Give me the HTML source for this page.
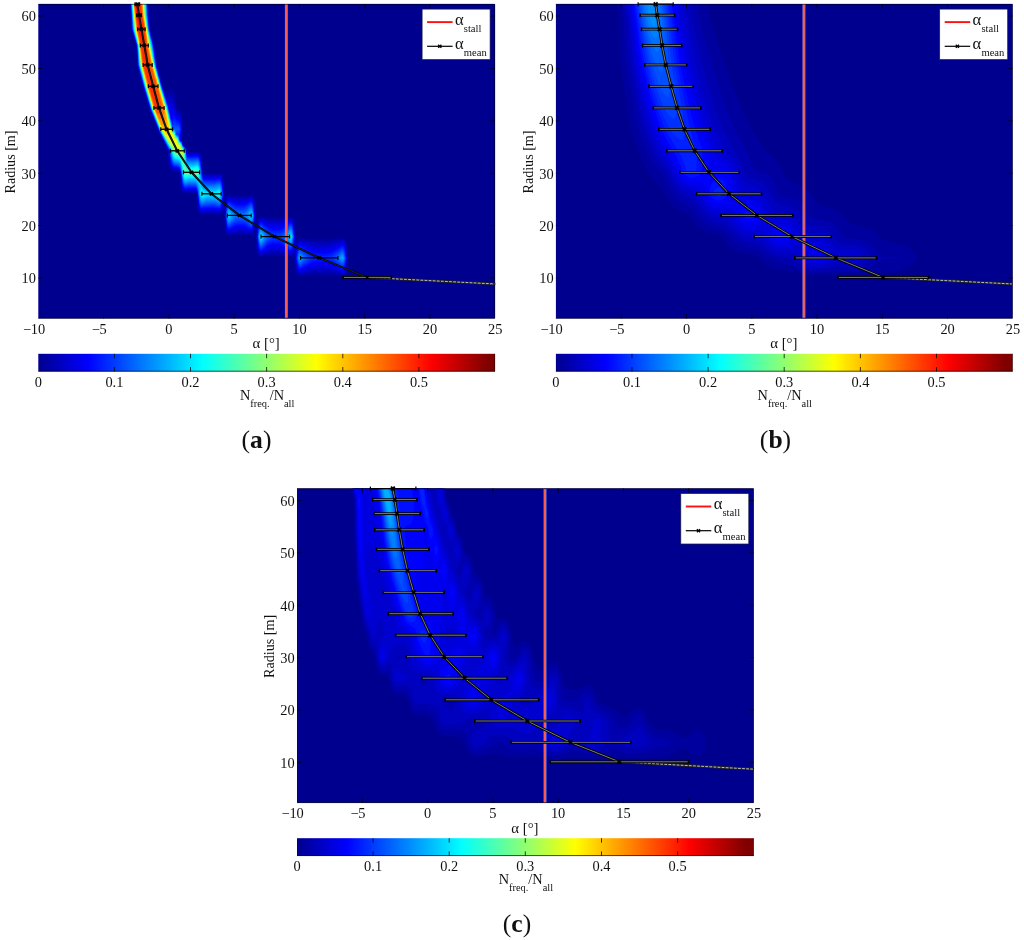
<!DOCTYPE html>
<html lang="en"><head><meta charset="utf-8"><title>Angle of attack distributions</title>
<style>html,body{margin:0;padding:0;background:#fff}svg{display:block}text{font-family:"Liberation Serif",serif;fill:#111}</style></head><body>
<svg width="1024" height="940" viewBox="0 0 1024 940" font-size="14.4">
<defs><linearGradient id="jet" x1="0" x2="1" y1="0" y2="0"><stop offset="0.0000" stop-color="#00008f"/><stop offset="0.0156" stop-color="#00009f"/><stop offset="0.0312" stop-color="#0000af"/><stop offset="0.0469" stop-color="#0000bf"/><stop offset="0.0625" stop-color="#0000cf"/><stop offset="0.0781" stop-color="#0000df"/><stop offset="0.0938" stop-color="#0000ef"/><stop offset="0.1094" stop-color="#0000ff"/><stop offset="0.1250" stop-color="#0010ff"/><stop offset="0.1406" stop-color="#0020ff"/><stop offset="0.1562" stop-color="#0030ff"/><stop offset="0.1719" stop-color="#0040ff"/><stop offset="0.1875" stop-color="#0050ff"/><stop offset="0.2031" stop-color="#0060ff"/><stop offset="0.2188" stop-color="#0070ff"/><stop offset="0.2344" stop-color="#0080ff"/><stop offset="0.2500" stop-color="#008fff"/><stop offset="0.2656" stop-color="#009fff"/><stop offset="0.2812" stop-color="#00afff"/><stop offset="0.2969" stop-color="#00bfff"/><stop offset="0.3125" stop-color="#00cfff"/><stop offset="0.3281" stop-color="#00dfff"/><stop offset="0.3438" stop-color="#00efff"/><stop offset="0.3594" stop-color="#00ffff"/><stop offset="0.3750" stop-color="#10ffef"/><stop offset="0.3906" stop-color="#20ffdf"/><stop offset="0.4062" stop-color="#30ffcf"/><stop offset="0.4219" stop-color="#40ffbf"/><stop offset="0.4375" stop-color="#50ffaf"/><stop offset="0.4531" stop-color="#60ff9f"/><stop offset="0.4688" stop-color="#70ff8f"/><stop offset="0.4844" stop-color="#80ff80"/><stop offset="0.5000" stop-color="#8fff70"/><stop offset="0.5156" stop-color="#9fff60"/><stop offset="0.5312" stop-color="#afff50"/><stop offset="0.5469" stop-color="#bfff40"/><stop offset="0.5625" stop-color="#cfff30"/><stop offset="0.5781" stop-color="#dfff20"/><stop offset="0.5938" stop-color="#efff10"/><stop offset="0.6094" stop-color="#ffff00"/><stop offset="0.6250" stop-color="#ffef00"/><stop offset="0.6406" stop-color="#ffdf00"/><stop offset="0.6562" stop-color="#ffcf00"/><stop offset="0.6719" stop-color="#ffbf00"/><stop offset="0.6875" stop-color="#ffaf00"/><stop offset="0.7031" stop-color="#ff9f00"/><stop offset="0.7188" stop-color="#ff8f00"/><stop offset="0.7344" stop-color="#ff8000"/><stop offset="0.7500" stop-color="#ff7000"/><stop offset="0.7656" stop-color="#ff6000"/><stop offset="0.7812" stop-color="#ff5000"/><stop offset="0.7969" stop-color="#ff4000"/><stop offset="0.8125" stop-color="#ff3000"/><stop offset="0.8281" stop-color="#ff2000"/><stop offset="0.8438" stop-color="#ff1000"/><stop offset="0.8594" stop-color="#ff0000"/><stop offset="0.8750" stop-color="#ef0000"/><stop offset="0.8906" stop-color="#df0000"/><stop offset="0.9062" stop-color="#cf0000"/><stop offset="0.9219" stop-color="#bf0000"/><stop offset="0.9375" stop-color="#af0000"/><stop offset="0.9531" stop-color="#9f0000"/><stop offset="0.9688" stop-color="#8f0000"/><stop offset="0.9844" stop-color="#800000"/><stop offset="1.0000" stop-color="#800000"/></linearGradient>
<clipPath id="pc"><rect x="38.3" y="4.0" width="456.7" height="314.5"/></clipPath></defs>
<rect width="1024" height="940" fill="#fff"/>
<g transform="translate(0,0)">
<rect x="38.3" y="4.0" width="456.7" height="314.5" fill="#00008f"/>
<g clip-path="url(#pc)">
<path fill="#00009f" d="M129.6,4 148.9,4 149.2,15.2 150.3,29.2 154.8,45.4 157.2,64.9 158.3,67.7 160,75.6 162.3,82.8 162.9,86.3 165.3,91.8 166.3,90.5 168.3,89.7 172.3,89.8 173.3,90.2 174.5,91.7 175.8,97.1 176.6,107.9 177.3,108.9 178.3,109.5 180.3,109.9 181.3,111.2 181.9,113.2 182.5,118.6 183,129.3 182.5,140.1 183.3,141.6 184,145.4 185.3,145.8 186.3,146.7 187.3,151.5 198.3,151.5 200.3,152 201.3,153 202.3,156.2 202.9,161.6 203.3,172.5 204.3,173.2 220.3,173.2 222.3,174 223.8,177.7 225.3,197.6 226.3,195.6 228.3,194.8 240.3,195.2 251.3,194.8 253.3,195.3 254.3,196.6 255.1,199.2 255.6,204.6 256.3,222.7 257.3,218.5 258.3,217 260.3,216.3 275.3,217.2 291.3,216.3 293.3,217 294.3,218.5 294.9,220.7 296.3,238.9 298.3,238 300.3,237.7 312.3,238.6 321.3,238.8 330.3,238.6 342.3,237.7 345.3,238.6 346.3,239.7 347.1,241.9 347.8,247.2 348.5,267.6 349.1,272.5 346.3,275.6 344.3,276.4 342.3,276.5 324.3,275.4 312.3,275.5 300.3,276.4 298.3,276.2 296.3,274.8 295.4,272.5 294.6,267.6 294.1,257.9 293.3,256.2 292.3,256.8 290.3,257 276.3,256.1 269.3,256.3 261.3,257 259.3,256.8 258.3,256.2 257.3,254.7 256.7,252.6 255.3,230.2 254.3,233.9 253.3,235.2 252.3,235.6 241.3,235.2 227.3,235.5 226.3,234.8 224.9,231.3 223.9,215.4 223.3,211.8 222.3,213.7 221.3,214.3 219.3,214.6 201.3,214.6 199.3,214.1 198.3,213.2 197.2,210 196.6,204.6 196.3,193.8 195.3,193.1 185.3,193.1 182.3,192.6 181.3,191.6 180.3,188.4 179.7,183.1 179.3,172.1 178.3,171.7 173.3,171.6 171.3,171.1 170.3,170.6 169.3,169 168.7,166.9 168.1,161.6 167.7,150.8 166.3,149.7 165.1,145.4 163.3,143.4 162.7,140.1 161.3,139.1 160.2,134.7 158.3,133 157.6,129.3 156.3,127.9 155.6,124 154.3,122.9 153.4,118.6 152.3,117.7 151.2,113.2 150.3,112.5 149.3,110.4 147.4,102.5 146.3,100.6 145.6,97.1 144.3,93.7 142.5,86.3 141.3,83.3 136.7,64.9 136.3,51.1 135.8,45.4 130.8,29.2 129.6,4Z"/>
<path fill="#0000af" d="M130,4 148.4,4 148.9,15.2 150.1,29.2 154.4,45.4 156.9,64.9 164.2,91.7 166.3,94.7 167.3,93.5 168.3,93 172.3,93.2 173.3,94.1 174.5,97.1 175.8,107.9 176.3,109.2 177.3,110.6 180.3,112 180.9,113.2 181.9,118.6 182.5,129.3 181.9,140.1 183.3,143.5 183.6,145.4 185.3,146.2 186.3,148 187.3,152.2 197.3,152.1 199.3,152.5 200.3,153.3 201.6,156.2 202.3,161.6 202.9,172.3 203.3,173.4 204.3,174.1 205.3,174.1 219.3,173.9 221.3,174.5 222.3,175.7 223,177.7 223.8,183.1 224.3,193.8 224.1,204.6 223,210 222.3,212 221.3,213.2 219.3,213.8 202.3,213.7 200.3,213.5 199.3,212.8 198,210 197.2,204.6 196.6,193.8 196.3,193 195.3,192.4 184.3,192.4 182.3,191.3 181,188.4 180.3,183.1 179.7,172.3 179.3,171.5 178.3,171.1 173.3,170.8 171.3,170 170.3,168.8 169.6,166.9 168.7,161.6 168.1,150.8 166.3,148.6 165.5,145.4 164.3,144.1 163.1,140.1 161.3,138.2 160.5,134.7 159.3,133.7 157.9,129.3 156.3,126.5 155.8,124 154.3,121.8 153.7,118.6 152.3,116.9 151.5,113.2 150.3,111.8 144.4,91.7 143.3,89.1 137.3,66 136.3,45.4 131.2,29.2 130,4ZM225.7,199.2 226.3,197.4 227.3,196.1 228.3,195.7 235.3,196.6 240.3,196.7 245.3,196.5 251.3,195.7 252.3,195.9 253.3,196.7 254.3,199.2 255.1,204.6 255.6,215.4 255.1,226 254.3,231.3 253.3,233.7 251.3,234.7 242.3,233.8 235.3,233.9 229.3,234.7 227.3,234.3 226.3,233.1 225.7,231.3 224.6,220.7 224.5,204.6 225.7,199.2ZM257.5,220.7 258.3,218.7 259.3,217.6 260.3,217.3 269.3,218.7 274.3,219 281.3,218.8 290.3,217.2 292.3,217.6 293.3,218.7 294.3,221.7 294.9,226 295.5,236.6 296.3,241.7 298.3,239.3 300.3,238.9 311.3,240.5 318.3,240.9 329.3,240.7 342.3,238.9 344.3,239.5 345.3,240.5 346.3,242.8 347.5,252.6 347.7,262.8 347,272.5 345.3,274.7 343.3,275.6 331.3,273.8 323.3,273.4 313.3,273.6 299.3,275.2 297.3,274.1 296.3,272.3 295.4,267.6 294.3,254.9 293.3,254.6 292.3,255.7 290.3,256.1 282.3,254.6 277.3,254.3 270.3,254.5 261.3,256.1 259.3,255.7 258.3,254.6 257.5,252.6 256.7,247.2 256.3,241.9 256.3,231.3 256.6,226 257.5,220.7Z"/>
<path fill="#0000bf" d="M130.3,4 148.2,4 148.6,15.2 149.8,29.2 154.1,45.4 156.7,64.9 162.3,86.3 163.3,88.5 164.1,91.7 166.3,97.4 168.3,96.4 171.3,96.4 172.3,96.7 173.3,98 174.3,101.3 175.1,107.9 176.3,111 177.3,112.2 179.3,112.9 180.3,114 181.4,118.6 182.2,129.3 181.4,140.1 182.3,141 183.3,145.4 185.3,146.5 187.3,152.9 197.3,152.8 199.3,153.4 200.3,154.5 201.3,157.4 202,161.6 202.6,172.3 203.3,174.3 204.3,174.9 207.3,175.1 219.3,174.7 221.3,175.6 222.3,177.4 223.8,188.4 223.9,199.2 222.4,210 221.3,212.1 220.3,212.7 208.3,212.6 202.3,212.9 200.3,212.5 199.3,211.5 198.3,208.8 197.6,204.6 196.9,193.8 196.3,192.3 195.3,191.7 185.3,191.8 183.3,191.2 182.3,190.1 181.3,187.2 180.6,183.1 180,172.3 179.3,170.9 178.3,170.5 173.3,170.1 171.3,168.8 170.3,167.1 169.2,161.6 168.5,150.8 166.3,147.4 165.8,145.4 164.3,143.5 163.4,140.1 161.3,137.3 160.7,134.7 159.3,133.2 158.3,129.3 157.3,128 156.1,124 154.3,120.7 153.9,118.6 152.3,116 151.7,113.2 150.3,111.1 143.3,87.8 138.3,68.9 137.4,64.9 136.4,45.4 131.5,29.2 130.3,4ZM226.3,199.2 227.3,197.3 229.3,196.6 234.3,197.8 240.3,198.1 245.3,197.9 251.3,196.7 252.3,197 253.3,198.2 254.7,204.6 255.3,215.4 254.3,228.4 253.7,231.3 252.3,233.5 250.3,233.7 245.3,232.6 241.3,232.3 235.3,232.5 229.3,233.8 227.3,233.2 226.3,231.3 225.4,226 224.6,215.4 225.4,204.6 226.3,199.2ZM258.2,220.7 259.3,218.7 261.3,218.1 269.3,220.3 274.3,220.8 281.3,220.5 290.3,218.1 292.3,218.7 293.4,220.7 294.5,226 295.2,236.6 295.3,245.5 296.3,244.6 297.3,242.1 298.3,240.7 300.3,240 311.3,242.5 320.3,243.1 329.3,242.8 341.3,240.2 343.3,240.2 344.3,240.9 345.3,242.5 346.5,247.2 347.1,252.6 347.4,257.9 347.2,262.8 346.9,267.6 346,272.5 344.3,274.3 342.3,274.7 332.3,272.2 323.3,271.4 313.3,271.7 300.3,274.3 299.3,274.2 298.3,273.7 297.4,272.5 296.3,269.7 295.4,262.8 294.8,252.6 294.3,251 292.3,254.5 290.3,255.2 282.3,253 277.3,252.5 270.3,252.8 261.3,255.2 259.3,254.5 258.2,252.6 257.3,248.4 256.4,236.6 257.1,226 258.2,220.7Z"/>
<path fill="#0000cf" d="M130.4,4 148,4 148.3,15.2 149.6,29.2 153.9,45.4 156.4,64.9 162.1,86.3 165.7,97.1 167.3,100.6 168.3,99.8 171.3,99.8 172.3,100.1 173.3,101.9 174.5,107.9 176.3,112.7 177.3,113.9 179.3,114.6 180.3,116.1 181.3,121.3 181.9,129.3 180.9,140.1 182.3,141.5 183.2,145.4 185.3,146.9 187.3,153.6 197.3,153.5 199.3,154.3 200.5,156.2 201.3,159.6 202.3,172.3 203.3,175.2 204.3,175.8 207.3,176 219.3,175.6 220.3,175.8 221.8,177.7 223,183.1 223.8,193.8 223,204.6 222.3,208.5 221.3,211 220.3,211.8 219.3,212.1 208.3,211.6 202.3,212.1 200.3,211.6 199.2,210 198.3,206.6 197.2,193.8 196.3,191.6 195.3,191 194.3,190.9 185.3,191.1 183.3,190.3 182.1,188.4 181.3,185 180.3,172.3 179.3,170.3 178.3,169.9 173.3,169.4 172.3,168.7 170.9,166.9 169.6,161.6 168.7,150.8 167.3,148.9 166.1,145.4 164.3,142.8 163.5,140.1 162.3,138.5 160.9,134.7 159.3,132.7 158.4,129.3 157.3,127.5 156.3,124 155.3,122.4 154.1,118.6 150.3,110.4 142.3,83.3 138.3,68.1 137.6,64.9 136.6,45.4 131.7,29.2 130.4,4ZM226.9,199.2 228.3,197.7 229.3,197.6 234.3,199.1 238.3,199.6 244.3,199.4 250.3,197.7 251.3,197.6 252.3,198.1 253.3,199.6 254.3,204.6 255.1,215.4 254.3,226 253.3,230.9 252.3,232.4 251.3,232.9 250.3,232.7 245.3,231.3 241.3,230.9 235.3,231.2 229.3,232.9 228.3,232.8 227.3,232.1 226.3,229.5 225.7,226 224.9,215.4 225.7,204.6 226.9,199.2ZM258.8,220.7 260.3,219.1 261.3,219 270.3,222.2 277.3,222.6 282.3,222 290.3,219 291.3,219.1 292.3,219.9 293.3,222 294.1,226 294.9,236.6 294.3,247.2 293.3,251.3 292.3,253.4 291.3,254.2 290.3,254.3 282.3,251.3 276.3,250.6 272.3,250.8 269.3,251.3 261.3,254.3 260.3,254.2 259.3,253.4 258.3,251.3 257.5,247.2 256.7,236.6 257.5,226 258.8,220.7ZM298.4,241.9 300.3,241.1 312.3,244.7 316.3,245.2 323.3,245.3 330.3,244.7 341.3,241.4 343.3,241.4 344.3,242.3 345.3,244.4 346,247.2 347.1,257.9 346.3,267.6 345,272.5 343.3,273.7 342.3,273.9 336.3,271.5 331.3,270.2 327.3,269.6 321.3,269.5 312.3,270 300.3,273.2 298.4,272.5 297.3,270.7 296.4,267.6 295.4,257.9 295.5,252.6 296.3,247.2 297.3,243.9 298.4,241.9Z"/>
<path fill="#0000df" d="M130.5,4 147.8,4 148.1,15.2 149.4,29.2 153.7,45.4 156.2,64.9 162,86.3 165.3,97.1 166.3,98.9 167.3,102.7 172.3,103.6 176.3,114.5 177.3,115.5 179.3,116.3 180.3,118.1 181.7,129.3 180.4,140.1 181.3,140.5 182.3,142 183.1,145.4 185.3,147.3 187.3,154.3 197.3,154.2 199.3,155.1 200.3,157 201.3,161.6 202.1,172.3 203.3,176 204.3,176.7 208.3,177 214.3,176.9 219.3,176.4 220.3,176.7 221.3,177.8 222.7,183.1 223.6,193.8 222.3,206.8 221.3,209.9 220.3,211 219.3,211.3 214.3,210.8 208.3,210.7 202.3,211.3 200.3,210.6 199.3,209 198.3,204.6 197.4,193.8 196.3,190.9 195.3,190.3 194.3,190.2 185.3,190.4 183.3,189.5 182.3,187.6 181.3,183 180.3,171.7 179.3,169.8 173.3,168.6 171.3,166.4 169.9,161.6 168.9,150.8 167.3,148.4 166.3,145.4 164.3,142.1 163.7,140.1 162.3,138.1 161.1,134.7 159.3,132.2 158.5,129.3 157.3,127.1 154.3,118.6 150.3,109.7 144.3,89.8 138.3,67.4 137.7,64.9 136.7,45.4 131.9,29.2 130.5,4ZM227.7,199.2 228.3,198.6 229.3,198.5 234.3,200.5 240.3,201 245.3,200.6 250.3,198.7 251.3,198.6 252.3,199.1 253.3,201.1 254,204.6 254.9,215.4 254,226 253.3,229.4 252.3,231.4 251.3,231.9 250.3,231.8 245.3,230 241.3,229.5 235.3,229.8 229.3,232 228.3,231.8 227.3,230.9 226,226 225.1,215.4 226,204.6 227.7,199.2ZM259.6,220.7 260.3,220 261.3,219.9 269.3,223.6 272.3,224.3 275.3,224.4 279.3,224.3 282.3,223.6 290.3,219.9 291.3,220 292,220.7 293.3,223.6 293.8,226 294.7,236.6 293.9,247.2 292,252.6 291.3,253.2 290.3,253.4 282.3,249.7 279.3,249 276.3,248.8 272.3,249 269.3,249.7 261.3,253.4 260.3,253.2 259.6,252.6 258.3,249.6 257.8,247.2 256.9,236.6 257.8,226 258.3,223.6 259.6,220.7ZM296.9,247.2 298.3,243.4 299.3,242.5 300.3,242.3 311.3,246.5 315.3,247.2 320.3,247.4 329.3,246.9 333.3,245.8 341.3,242.5 342.3,242.3 343.3,242.6 344.3,243.8 345.5,247.2 346.8,257.9 345.8,267.6 344.3,272.1 343.3,272.8 342.3,273 336.3,270.1 331.3,268.4 327.3,267.7 321.3,267.5 312.3,268.1 300.3,272.2 299.3,272 298.3,271.2 297.3,269 296,262.8 295.6,257.9 296,252.6 296.9,247.2Z"/>
<path fill="#0000ef" d="M130.7,4 147.6,4 148,15.2 149.3,29.2 153.5,45.4 156.1,64.9 161.8,86.3 167.3,103.2 169.3,106.6 171.3,106.6 172.3,107.1 176.3,116.3 177.3,117.2 179.3,117.9 180.3,120.1 181.4,129.3 180.1,140.1 181.3,140.7 182.3,142.5 183,145.4 185.3,147.7 187.3,155.1 197.3,154.8 198.3,155.1 199.3,156 200.3,158.3 201,161.6 202,172.3 203.3,176.9 204.3,177.6 208.3,177.9 214.3,177.8 219.3,177.2 220.3,177.6 221.3,178.9 222.4,183.1 223.3,193.8 222.3,205.1 221.3,208.8 220.3,210.1 219.3,210.5 214.3,209.8 208.3,209.8 202.3,210.4 201.3,210.4 200.3,209.7 199.3,207.7 198.6,204.6 197.6,193.8 196.3,190.2 195.3,189.5 193.3,189.4 185.3,189.8 184.3,189.5 183.3,188.6 182.3,186.3 181.6,183.1 180.3,171 179.3,169.2 173.3,167.9 171.3,165.3 170.2,161.6 169.2,150.8 167.3,147.9 163.9,140.1 162.3,137.8 161.3,134.7 159.3,131.7 156.6,123.9 150.3,109 144.3,89.2 138.3,66.6 137.9,64.9 136.8,45.4 132.1,29.2 130.7,4ZM170.3,109.6 170.1,113.2 171.3,119 171.3,112.7 170.3,109.6ZM226.3,204.6 227.3,200.7 228.3,199.6 229.3,199.5 234.3,201.8 238.3,202.4 244.3,202.2 247.3,201.2 250.3,199.7 251.3,199.5 252.3,200.2 253.7,204.6 254.7,215.4 253.7,226 252.3,230.3 251.3,231 250.3,230.8 247.3,229.3 244.3,228.4 238.3,228.1 234.3,228.7 229.3,231 228.3,230.9 227.3,229.8 226.3,226 225.7,220.7 225.4,215.4 226.3,204.6ZM258.2,226 259.3,222.1 260.3,221 261.3,220.8 269.3,225.3 272.3,226.1 275.3,226.2 281.3,225.6 284.3,224.3 289.3,221.2 290.3,220.8 291.3,221 292.3,222.1 293.3,225.3 294.5,236.6 293.5,247.2 292.3,251.2 291.3,252.3 290.3,252.5 284.3,249 281.3,247.6 278.3,247.1 274.3,247 269.3,248 262.3,252.1 261.3,252.5 260.3,252.3 259.3,251.2 258.3,248 257.5,241.9 257.1,236.6 258.2,226ZM297.4,247.2 298.3,244.7 299.3,243.7 300.3,243.4 308.3,247.3 313.3,249 318.3,249.6 325.3,249.5 329.3,248.9 332.3,248 341.3,243.7 342.3,243.5 343.3,243.8 344.3,245.2 345.3,248.4 346.5,257.9 345.3,267.6 344.3,270.6 343.3,271.7 342.3,272 336.3,268.6 331.3,266.6 326.3,265.6 320.3,265.5 316.3,265.6 312.3,266.3 308.3,267.6 300.3,271.2 299.3,270.9 298.3,269.9 297.3,267.4 295.9,257.9 296.4,252.6 297.4,247.2Z"/>
<path fill="#0000ff" d="M130.8,4 147.4,4 147.8,15.2 149.1,29.2 153.3,45.4 156,64.9 161.7,86.3 169.3,109.1 169.8,113.2 171.3,119.7 172,118.6 172.3,113.7 173.3,112.7 176.3,118.1 179.3,119.6 180.3,122.2 181.2,129.3 179.9,140.1 181.3,141 182.3,143 182.8,145.4 185.3,148 186.3,153 187.3,155.8 193.3,155.9 197.3,155.5 198.3,155.9 199.3,156.9 200.7,161.6 201.8,172.3 202.3,175.2 203.3,177.8 204.3,178.5 209.3,178.9 214.3,178.8 219.3,178 220.3,178.5 221.3,180 222.1,183.1 222.8,188.4 223.2,193.8 222.8,199.2 222.1,204.6 221.3,207.7 220.3,209.2 219.3,209.7 211.3,208.8 206.3,208.9 202.3,209.6 201.3,209.5 200.3,208.7 198.9,204.6 197.8,193.8 196.3,189.5 195.3,188.8 194.3,188.7 185.3,189.1 183.9,188.4 183.3,187.7 181.9,183.1 180.8,172.3 180.3,170.4 179.3,168.6 178.3,168.1 174.3,167.7 173.3,167.2 172.3,166.1 171.3,164.1 170.3,160.2 169.4,150.8 165.3,143.4 164.1,140.1 162.3,137.4 161.4,134.7 159.3,131.2 154.5,118.6 151.3,111.3 144.3,88.7 138.3,65.9 137,45.4 132.3,29.2 130.8,4ZM226.6,204.6 227.3,201.9 228.3,200.6 229.3,200.4 234.3,203.1 238.3,203.9 244.3,203.6 247.3,202.4 250.3,200.7 251.3,200.5 252.3,201.3 253.4,204.6 254.5,215.4 253.4,226 252.3,229.3 251.3,230 250.3,229.9 247.3,228.1 244.3,227 238.3,226.7 234.3,227.4 229.3,230.1 228.3,229.9 227.3,228.7 226.6,226 225.5,215.4 226.6,204.6ZM258.5,226 259.3,223.2 260.3,221.9 261.3,221.7 267.3,225.8 270.3,227.3 273.3,228 278.3,228 282.3,226.9 289.3,222.2 290.3,221.7 291.3,221.9 292.3,223.2 293.1,226 294.3,236.6 293.3,246.3 292.3,250.1 291.3,251.4 290.3,251.6 284.3,247.5 281.3,245.9 278.3,245.3 274.3,245.2 271.3,245.6 269.3,246.4 262.3,251.1 261.3,251.6 260.3,251.4 259.3,250.1 258.5,247.2 257.7,241.9 257.3,236.6 258.5,226ZM297.9,247.2 299.3,244.8 300.3,244.6 308.3,249.1 312.3,250.8 317.3,251.7 324.3,251.7 330.3,250.7 334.3,248.9 341.3,244.9 342.3,244.6 343.3,245 344.3,246.6 345.3,250.3 346.3,257.9 345.3,265.8 344.3,269.2 343.3,270.5 342.3,270.9 335.3,266.6 330.3,264.5 325.3,263.6 319.3,263.5 312.3,264.4 308.3,266 300.3,270.1 299.3,269.9 298.3,268.7 297.3,265.7 296.1,257.9 296.7,252.6 297.9,247.2Z"/>
<path fill="#0010ff" d="M130.9,4 147.2,4 147.7,15.2 149,29.2 153.1,45.4 155.9,64.9 161.6,86.3 169.3,111.2 171.3,120.5 172.3,121.2 173.3,115.9 174.3,116.6 176.3,119.8 179.3,121.3 180.3,124.2 180.9,129.3 179.6,140.1 181.3,141.2 182.7,145.4 185.3,148.4 186.3,153.8 187.3,156.5 193.3,156.6 197.3,156.2 198.3,156.6 199.3,157.8 200.5,161.6 202.3,176.2 203.3,178.7 204.3,179.4 209.3,179.8 214.3,179.7 219.3,178.8 220.3,179.4 221.3,181.1 222.3,186 223,193.8 221.8,204.6 221.3,206.6 220.3,208.3 219.3,208.8 215.3,208.1 211.3,207.9 206.3,208 202.3,208.8 201.3,208.7 200.3,207.8 199.2,204.6 198,193.8 197.3,190.8 196.3,188.8 195.3,188.1 194.3,188 189.3,188 185.3,188.4 184.3,188 183.3,186.8 182.3,183.8 181,172.3 180.3,169.7 179.3,168 174.3,167 173.3,166.4 172.3,165.2 171.3,162.9 170.3,158.4 169.6,150.8 165.3,143.1 164.3,140.1 162.3,137 161.6,134.7 160.3,133 151.3,110.9 144.3,88.1 139.3,69.2 138.3,64.9 137.1,45.4 132.4,29.2 130.9,4ZM226.9,204.6 227.3,203 228.3,201.5 229.3,201.4 234.3,204.5 238.3,205.3 244.3,205 247.3,203.7 250.3,201.6 251.3,201.4 252.3,202.3 253.3,205.5 254.3,215.4 253.3,225.1 252.3,228.2 251.3,229.1 250.3,228.9 247.3,226.9 244.3,225.7 238.3,225.3 234.3,226.1 229.3,229.2 228.3,229 227.3,227.5 226.9,226 225.7,215.4 226.9,204.6ZM258.8,226 259.3,224.3 260.3,222.8 261.3,222.5 267.3,227.2 270.3,229 273.3,229.8 278.3,229.8 282.3,228.5 289.3,223.1 290.3,222.5 291.3,222.8 292.3,224.3 292.8,226 294.1,236.6 292.8,247.2 292.3,248.9 291.3,250.4 290.3,250.7 289.3,250.1 284.3,246 281.3,244.2 279.3,243.6 276.3,243.4 273.3,243.5 270.3,244.2 267.3,246 262.3,250.1 261.3,250.7 260.3,250.4 259.3,248.9 258.8,247.2 257.5,236.6 258.8,226ZM298.4,247.2 299.3,246 300.3,245.7 308.3,250.8 312.3,252.8 316.3,253.7 323.3,253.9 327.3,253.6 331.3,252.3 342.3,245.7 343.3,246.3 344.3,248 345.3,252.3 346,257.9 345.3,263.7 344.3,267.8 343.3,269.4 342.3,269.7 335.3,265 330.3,262.7 325.3,261.6 319.3,261.5 315.3,261.8 312.3,262.6 308.3,264.4 300.3,269.1 299.3,268.8 298.3,267.5 297.3,264 296.4,257.9 297.3,251.2 298.4,247.2Z"/>
<path fill="#0020ff" d="M131,4 147.1,4 147.5,15.2 148.9,29.2 153,45.4 155.7,64.9 161.4,86.3 167.3,104.5 172.3,124.4 173.3,119.2 174.3,119 176.3,121.6 179.3,122.9 180.3,126.3 180.7,129.3 179.6,134.7 179.4,140.1 181.3,141.5 182.6,145.4 185.3,148.8 186.3,154.6 187.3,157.2 193.3,157.4 197.3,156.9 198.3,157.3 199.3,158.6 200.3,162 202.3,177.2 203.3,179.6 204.3,180.2 208.3,180.7 214.3,180.6 219.3,179.6 220.3,180.3 221.5,183.1 222.8,193.8 221.5,204.6 220.3,207.4 219.3,208 215.3,207.2 211.3,206.9 206.3,207.1 202.3,208 201.3,207.8 200.3,206.8 199.3,203.8 198.2,193.8 197.3,190.1 196.3,188.1 195.3,187.4 193.3,187.2 185.3,187.7 184.3,187.3 183.3,186 182.4,183.1 181.2,172.3 180.3,169.1 179.3,167.4 174.3,166.3 172.3,164.3 171.2,161.6 170.3,156.7 169.7,150.8 165.3,142.7 164.4,140.1 162.3,136.6 161.7,134.7 160.3,132.7 151.3,110.6 144.3,87.6 139.3,68.7 138.4,64.9 137.3,45.4 132.5,29.2 131,4ZM227.2,204.6 228.3,202.5 229.3,202.3 232.3,204.6 235.3,206.2 238.3,206.8 242.3,206.7 245.3,206 250.3,202.6 251.3,202.4 252.3,203.4 253.3,206.9 254.1,215.4 253.3,223.7 252.3,227.2 251.3,228.2 250.3,227.9 247.3,225.7 244.3,224.3 238.3,223.9 234.3,224.8 229.3,228.3 228.3,228 227.2,226 225.8,215.4 227.2,204.6ZM259.1,226 260.3,223.8 261.3,223.4 267.3,228.7 270.3,230.7 273.3,231.5 277.3,231.6 280.3,231.1 282.3,230.2 289.3,224.1 290.3,223.4 291.3,223.8 292.5,226 293.9,236.6 293.5,241.9 292.5,247.2 291.3,249.5 290.3,249.8 289.3,249.2 284.3,244.5 281.3,242.5 279.3,241.8 276.3,241.6 273.3,241.7 270.3,242.5 267.3,244.5 262.3,249.2 261.3,249.8 260.3,249.5 259.1,247.2 257.7,236.6 259.1,226ZM299.3,247.2 300.3,246.8 308.3,252.6 312.3,254.8 316.3,255.9 322.3,256.1 326.3,255.9 330.3,254.7 334.3,252.5 342.3,246.9 343.3,247.5 344.3,249.5 345.8,257.9 344.3,266.3 343.3,268.2 342.3,268.6 335.3,263.5 330.3,260.8 325.3,259.7 319.3,259.5 315.3,259.9 312.3,260.7 308.3,262.7 300.3,268 299.3,267.7 298.3,266.2 296.6,257.9 298.3,248.8 299.3,247.2Z"/>
<path fill="#0030ff" d="M131.2,4 146.9,4 147.4,15.2 148.8,29.2 152.8,45.4 155.6,64.9 161.3,86.3 167.3,104.9 172.3,125.2 173.1,124 173.3,122.5 174.3,121.4 176.3,123.4 179.3,124.6 180.4,129.3 179.3,134 178.3,134.7 176.3,134.7 178.3,134.7 179.3,140.2 181.3,141.7 182.5,145.4 184.3,147.4 185.3,149.2 186.3,155.4 187.3,157.9 193.3,158.1 197.3,157.5 198.3,158 199.3,159.5 200.3,163.3 202.2,177.7 203.3,180.5 204.3,181.1 208.3,181.6 214.3,181.5 219.3,180.5 220.3,181.1 221.3,183.3 222.7,193.8 221.3,204.4 220.3,206.5 219.3,207.2 215.3,206.3 211.3,206 206.3,206.2 202.3,207.1 201.3,207 200.3,205.9 199.3,202.5 198.3,193.6 197.3,189.3 196.3,187.4 195.3,186.7 193.3,186.5 189.3,186.5 185.3,187.1 184.3,186.6 183.3,185.1 182.7,183.1 181.3,172.3 180.3,168.4 179.3,166.8 174.3,165.7 173.3,164.9 172.3,163.4 171.3,160.6 170.5,156.2 169.9,150.8 165.3,142.4 161.8,134.7 160.3,132.5 151.3,110.3 144.3,87 139.3,68.2 138.5,64.9 137.4,45.4 132.6,29.2 131.2,4ZM227.7,204.6 228.3,203.5 229.3,203.2 232.3,205.8 235.3,207.6 237.3,208.1 241.3,208.2 245.3,207.3 250.3,203.6 251.3,203.3 252.3,204.5 253.3,208.4 254,215.4 253.3,222.3 252.3,226.1 251.3,227.2 250.3,227 247.3,224.5 244.3,222.9 242.3,222.5 238.3,222.5 234.3,223.5 229.3,227.3 228.3,227.1 227.3,225.3 226,215.4 226.5,210 227.7,204.6ZM259.6,226 260.3,224.7 261.3,224.3 267.3,230.2 270.3,232.4 273.3,233.3 277.3,233.4 280.3,232.9 282.3,231.8 289.3,225.1 290.3,224.3 291.3,224.7 292.3,226.5 293.8,236.6 292.3,246.7 291.3,248.6 290.3,248.9 289.3,248.2 284.3,243 281.3,240.8 279.3,240.1 276.3,239.8 273.3,239.9 270.3,240.8 267.3,243 262.3,248.2 261.3,248.9 260.3,248.6 259.3,246.7 257.8,236.6 258.4,231.3 259.6,226ZM297.7,252.6 298.3,250.2 299.3,248.4 300.3,248 310.3,255.7 313.3,257.2 315.6,257.9 310.3,259.9 300.3,267 299.3,266.6 298.3,265 297.3,260.7 296.9,257.9 297.7,252.6ZM336.4,252.6 342.3,248 343.3,248.7 344.3,250.9 345.5,257.9 344.3,264.9 343.3,267 342.3,267.5 333.3,260.6 330.3,259 326.8,257.9 331.3,256.2 336.4,252.6Z"/>
<path fill="#0040ff" d="M131.3,4 146.8,4 147.2,15.2 148.7,29.2 152.7,45.4 155.5,64.9 161.2,86.3 167.3,105.4 172.3,126 173.3,125.7 174.3,123.8 176.3,125.2 178.3,125.6 179.3,126.3 180.1,129.3 179.3,132.3 178.3,133.1 176.3,133.1 176.2,134.7 178.3,135.1 179.3,140.3 181.3,142 182.4,145.4 184.3,147.6 185.3,149.5 186.3,156.2 187.3,158.6 193.3,158.8 197.3,158.2 198.3,158.7 199.3,160.4 200.3,164.5 202,177.7 203.3,181.3 204.3,182 208.3,182.6 214.3,182.5 219.3,181.3 220.3,182 221.3,184.4 222.5,193.8 221.3,203.3 220.3,205.6 219.3,206.4 215.3,205.3 211.3,205 206.3,205.2 202.3,206.3 201.3,206.2 200.3,204.9 199.3,201.2 198.3,192.5 197.3,188.5 196.3,186.7 195.3,186 193.3,185.8 189.3,185.8 185.3,186.4 184.3,185.9 182.9,183.1 181.5,172.3 180.3,167.8 179.3,166.2 174.3,165 173.3,164.2 172.3,162.5 170.7,156.2 170.1,150.8 165.3,142 161.9,134.7 160.3,132.2 151.3,109.9 145.3,90.1 139.3,67.8 138.6,64.9 137.4,45.4 132.8,29.2 131.3,4ZM228.2,204.6 229.3,204.2 232.3,207 235.3,209 237.3,209.5 240.3,209.7 243.3,209.4 245.3,208.7 250.3,204.6 251.3,204.3 252.3,205.5 253.3,209.8 253.8,215.4 253.3,220.9 252.3,225.1 251.3,226.3 250.3,226 245.3,222 243.3,221.3 240.3,221 237.3,221.1 235.3,221.7 232.3,223.6 229.3,226.4 228.3,226.1 227.3,224.1 226.1,215.4 227.3,206.5 228.2,204.6ZM260.1,226 261.3,225.2 267.3,231.7 270.3,234.1 273.3,235.1 276.3,235.3 279.3,234.9 281.3,234.1 284.3,231.7 289.3,226 290.3,225.2 291.3,225.6 292.3,227.7 293.6,236.6 292.3,245.6 291.3,247.6 290.3,248 289.3,247.2 284.3,241.5 281.3,239.1 279.3,238.3 276.3,237.9 273.3,238.1 270.3,239.1 267.3,241.5 262.3,247.2 261.3,248 260.3,247.6 259.3,245.6 258,236.6 259.3,227.7 260.1,226ZM298,252.6 299.3,249.5 300.3,249.1 310.7,257.9 300.3,266 299.3,265.5 298.3,263.7 297.1,257.9 298,252.6ZM338.1,252.6 342.3,249.2 343.3,249.9 344.3,252.3 345.3,257.9 344.3,263.5 343.3,265.8 342.3,266.4 335.3,260.4 331.7,257.9 338.1,252.6Z"/>
<path fill="#0050ff" d="M131.4,4 146.7,4 147.1,15.2 148.6,29.2 152.6,45.4 155.4,64.9 161.1,86.3 167.3,105.8 172.3,126.8 173.3,129 174.3,126.1 176.3,126.9 178.3,127.2 179.3,128 179.6,129.3 179.3,130.6 178.3,131.5 176.3,131.5 176.1,134.7 178.3,135.6 179.3,140.5 181.3,142.2 182.3,145.5 184.3,147.8 185.3,149.9 186.3,157 187.3,159.3 193.3,159.5 197.3,158.9 198.3,159.5 199.3,161.2 200.3,165.8 201.7,177.7 203.3,182.2 204.3,182.9 208.3,183.5 214.3,183.4 219.3,182.1 220.3,182.9 221.3,185.5 222.4,193.8 221.3,202.2 220.3,204.7 219.3,205.6 215.3,204.4 211.3,204.1 206.3,204.3 202.3,205.5 201.3,205.3 200.3,204 199.3,200 198.3,191.4 197.3,187.7 196.3,185.9 195.3,185.3 193.3,185.1 189.3,185.1 185.3,185.7 184.3,185.1 183.2,183.1 182.3,178.8 181.3,170.6 180.3,167.1 179.3,165.6 174.3,164.4 173.3,163.5 172.3,161.6 170.9,156.2 170.2,150.8 163.3,137.8 162.1,134.7 160.3,132 151.3,109.6 145.3,89.8 139.3,67.3 138.7,64.9 137.5,45.4 132.9,29.2 131.4,4ZM226.9,210 227.3,207.6 228.3,205.4 229.3,205.1 234.3,209.8 237.3,211 240.3,211.2 243.3,210.8 245.3,210.1 247.3,208.6 250.3,205.6 251.3,205.3 252.3,206.6 253.7,215.4 252.3,224 251.3,225.4 250.3,225 247.3,222.1 244.3,220.2 242.3,219.7 238.3,219.6 236.3,220 234.3,220.9 229.3,225.5 228.3,225.2 227.3,223 226.3,215.4 226.9,210ZM258.8,231.3 259.3,228.8 260.3,226.6 261.3,226.1 268.3,234.2 270.3,235.8 272,236.6 270.3,237.4 268.3,239 261.3,247.1 260.3,246.7 259.3,244.5 258.8,241.9 258.2,236.6 258.8,231.3ZM285.8,231.3 290.3,226.1 291.3,226.6 292.3,228.8 293.3,235.1 293.3,238.1 292.3,244.5 291.3,246.7 290.3,247.1 283.3,239 281.3,237.4 279.6,236.6 282.3,235.1 285.8,231.3ZM298.4,252.6 299.3,250.7 300.3,250.2 308.3,257.9 300.3,264.9 299.3,264.5 298.3,262.5 297.4,257.9 298.4,252.6ZM339.5,252.6 342.3,250.3 343.3,251.1 344.3,253.8 345,257.9 344.3,262 343.3,264.6 342.3,265.3 334.1,257.9 339.5,252.6Z"/>
<path fill="#0060ff" d="M131.4,4 146.6,4 147,15.2 148.5,29.2 152.4,45.4 155.3,64.9 161,86.3 167.3,106.3 172.3,127.6 173.3,129.5 174,129.3 174.3,128.5 178.3,128.8 178.9,129.3 178.3,129.8 176.3,129.8 175.9,134.7 176.3,135.2 178.3,136 179.3,140.7 181.3,142.5 182.3,145.7 184.3,148 185.4,150.8 186.3,157.8 187.3,160 193.3,160.3 197.3,159.6 198.3,160.2 199.3,162.1 200.3,166.9 201.5,177.7 202.3,181 203.3,183.1 205.3,184 208.3,184.4 214.3,184.3 219.3,182.9 220.3,183.8 221.3,186.6 222.2,193.8 221.3,201.1 220.3,203.9 219.3,204.7 215.3,203.5 211.3,203.2 206.3,203.4 202.3,204.7 201.3,204.5 200.3,203 199.4,199.2 197.8,188.4 196.3,185.2 195.3,184.6 193.3,184.3 189.3,184.3 185.3,185 184.3,184.4 183.3,182.5 181.3,169.8 180.3,166.5 179.3,165 174.3,163.7 173.3,162.7 172.3,160.8 171.1,156.2 170.4,150.8 163.3,137.5 162.2,134.7 160.3,131.7 151.3,109.3 145.3,89.4 139.3,66.8 138.8,64.9 137.6,45.4 133,29.2 131.4,4ZM227.1,210 228.3,206.4 229.3,206.1 232.3,209.5 235.3,211.7 238.3,212.5 242.3,212.5 245.3,211.4 247.3,209.8 250.3,206.6 251.3,206.2 252.3,207.7 253.6,215.4 252.3,223 251.3,224.4 250.3,224.1 247.3,220.9 244.3,218.8 242.3,218.3 238.3,218.2 236.3,218.6 234.3,219.6 229.3,224.5 228.3,224.2 227.3,221.9 226.5,215.4 227.1,210ZM259,231.3 260.3,227.5 261.3,227 269.2,236.6 261.3,246.2 260.3,245.8 259,241.9 258.3,236.6 259,231.3ZM286.8,231.3 290.3,227 291.3,227.5 292.3,229.9 293.3,236.6 292.3,243.4 291.3,245.8 290.3,246.2 282.4,236.6 286.8,231.3ZM299,252.6 299.3,251.9 300.3,251.4 306.5,257.9 300.3,263.9 299.3,263.4 299,262.8 297.6,257.9 299,252.6ZM340.8,252.6 342.3,251.4 343.3,252.3 344.8,257.9 343.6,262.8 342.3,264.2 335.9,257.9 340.8,252.6Z"/>
<path fill="#0070ff" d="M131.5,4 146.4,4 146.9,15.2 148.4,29.2 152.3,45.4 155.2,64.9 160.9,86.3 167.3,106.7 172.3,128.3 172.7,129.3 173.3,129.7 174.3,129.5 175.3,130 175.8,134.7 176.3,135.4 177.3,135.6 178.3,136.5 179.3,140.9 181.3,142.7 182.3,145.9 184.3,148.2 185.3,150.8 186.3,158.6 187.3,160.7 193.3,161 197.3,160.2 198.3,160.9 199.3,163 200.1,166.9 201.3,178 202.3,182 203.3,184 205.3,184.9 208.3,185.4 214.3,185.2 219.3,183.7 220.3,184.7 221.3,187.7 222.1,193.8 221.3,200 220.3,203 219.3,203.9 215.3,202.6 211.3,202.2 206.3,202.5 202.3,203.8 201.3,203.7 200.3,202 199.6,199.2 198.1,188.4 196.3,184.5 195.3,183.9 193.3,183.6 189.3,183.6 185.3,184.4 184.3,183.7 183.3,181.6 181.3,169 180.3,165.8 179.3,164.4 174.3,163 173.3,162 172.3,159.9 170.6,150.8 163.3,137.3 162.3,134.7 160.3,131.5 151.3,108.9 142.3,77.9 138.9,64.9 137.7,45.4 133.1,29.2 131.5,4ZM227.3,210 228.3,207.4 229.3,207 232.3,210.7 235.3,213.1 238.3,214 242.3,213.9 245.3,212.8 247.3,211.1 250.3,207.5 251.3,207.2 252.3,208.7 253.4,215.4 252.3,222 251.3,223.5 250.3,223.1 247.3,219.6 244.3,217.4 242.3,216.9 238.3,216.8 236.3,217.2 234.3,218.3 229.3,223.6 228.3,223.3 227.3,220.7 226.6,215.4 227.3,210ZM259.2,231.3 260.3,228.4 261.3,227.9 267.7,236.6 261.3,245.3 260.3,244.8 259.2,241.9 258.5,236.6 259.2,231.3ZM287.6,231.3 290.3,227.9 291.3,228.4 292.4,231.3 293.1,236.6 292.4,241.9 291.3,244.8 290.3,245.3 283.9,236.6 287.6,231.3ZM300.2,252.6 305.1,257.9 300.3,262.8 299.3,262.3 297.9,257.9 299.3,253.1 300.2,252.6ZM337.3,257.9 341.3,253.2 342.3,252.6 343.3,253.5 344.5,257.9 343.3,262.2 342.3,263.1 341.3,262.4 337.3,257.9Z"/>
<path fill="#0080ff" d="M131.6,4 146.3,4 146.8,15.2 148.3,29.2 152.1,45.4 155.1,64.9 160.8,86.3 167.3,107.1 172.3,129.1 173.3,129.9 174.3,129.8 175.3,131.1 175.7,134.7 176.3,135.6 177.3,135.8 178.3,136.9 179.3,141.1 181.3,143 182.3,146.1 184.3,148.4 185.3,150.8 186.3,159.4 187.3,161.4 193.3,161.7 197.3,160.9 198.3,161.6 199.3,163.8 199.9,166.9 201.3,179.4 202.3,183 203.3,184.9 205.3,185.9 208.3,186.3 214.3,186.1 219.3,184.5 220.3,185.6 221.3,188.8 222,193.8 221.2,199.2 220.3,202.1 219.3,203.1 215.3,201.7 211.3,201.3 206.3,201.6 202.3,203 201.3,202.8 200.3,201.1 199.8,199.2 198.3,188.2 196.3,183.8 195.3,183.2 193.3,182.9 189.3,182.9 185.3,183.7 184.3,183 183.3,180.8 181.3,168.3 180.3,165.2 179.3,163.8 175.3,162.8 174.3,162.4 173.3,161.3 171.6,156.2 170.7,150.8 160.3,131.3 151.3,108.6 142.3,77.4 139.1,64.9 137.8,45.4 133.2,29.2 131.6,4ZM227.7,210 228.3,208.3 229.3,208 234.3,213.8 236.3,215 238.2,215.4 236.3,215.8 234.3,217 229.3,222.7 228.3,222.3 227.7,220.7 226.7,215.4 227.7,210ZM249.2,210 250.3,208.5 251.3,208.1 252.3,209.8 253.3,215.4 252.3,220.9 251.3,222.5 250.3,222.2 247.3,218.4 245.3,216.7 241.8,215.4 245.3,214.1 249.2,210ZM259.6,231.3 260.3,229.3 261.3,228.8 266.6,236.6 261.3,244.4 260.3,243.9 259.6,241.9 258.6,236.6 259.6,231.3ZM288.4,231.3 290.3,228.8 291.3,229.3 292.3,232.1 293,236.6 292,241.9 291.3,243.9 290.3,244.4 285,236.6 288.4,231.3ZM298.1,257.9 299.3,254.3 300.3,253.6 303.9,257.9 300.3,261.8 299.3,261.2 298.1,257.9ZM338.5,257.9 341.3,254.4 342.3,253.7 343.3,254.7 344.3,257.9 343.3,261 342.3,262 338.5,257.9Z"/>
<path fill="#008fff" d="M131.7,4 146.2,4 146.6,15.2 148.2,29.2 152,45.4 155,64.9 160.7,86.3 167.3,107.6 172.3,129.5 173.3,130.1 174.3,130.1 175.3,132.2 175.6,134.7 176.3,135.8 177.3,136.1 178.3,137.4 179.3,141.2 181.3,143.2 182.3,146.3 184.3,148.6 185.2,150.8 186.3,160.2 187.3,162.1 193.3,162.5 197.3,161.6 198.3,162.4 199.8,166.9 201.3,180.7 202.3,183.9 203.3,185.7 205.3,186.8 208.3,187.2 214.3,187.1 219.3,185.4 220.3,186.4 221.3,189.9 221.8,193.8 220.9,199.2 220.3,201.2 219.3,202.3 215.3,200.8 211.3,200.3 206.3,200.6 202.3,202.2 201.3,202 200.1,199.2 198.3,187.1 196.3,183.1 195.3,182.5 193.3,182.1 189.3,182.1 185.3,183 184.3,182.2 183.3,179.9 181.3,167.5 180.3,164.5 179.3,163.2 175.3,162.2 174.3,161.7 173.3,160.5 171.8,156.2 170.9,150.8 160.3,131 152.3,110.9 144.8,86.3 139.2,64.9 137.8,45.4 133.4,29.2 131.7,4ZM228,210 228.3,209.3 229.3,208.9 232.3,213.1 234.6,215.4 232.3,217.7 229.3,221.8 228.3,221.4 228,220.7 226.9,215.4 228,210ZM249.9,210 251.3,209.1 251.8,210 252.3,210.9 253.1,215.4 252.3,219.9 251.3,221.6 250.3,221.2 247.3,217.2 245.4,215.4 247.3,213.5 249.9,210ZM259.9,231.3 260.3,230.3 261.3,229.7 265.8,236.6 261.3,243.5 260.3,243 259.9,241.9 258.8,236.6 259.9,231.3ZM289,231.3 290.3,229.7 291.3,230.3 292.3,233.2 292.8,236.6 291.7,241.9 291.3,243 290.3,243.5 285.8,236.6 289,231.3ZM298.4,257.9 299.3,255.4 300.3,254.8 302.9,257.9 300.3,260.8 299.3,260.2 298.4,257.9ZM339.5,257.9 342.3,254.9 343.3,255.9 343.9,257.9 343.3,259.9 342.3,260.8 339.5,257.9Z"/>
<path fill="#009fff" d="M131.8,4 146,4 146.5,15.2 148.1,29.2 151.9,45.4 154.9,64.9 160.6,86.3 167.3,107.9 172.3,129.7 174.3,130.4 175.5,134.7 176.3,136 177.3,136.3 178.3,137.9 179.3,141.4 181.3,143.5 182.3,146.5 184.3,148.8 185.1,150.8 186.3,161 187.3,162.8 193.3,163.2 197.3,162.3 198.3,163.1 199.6,166.9 201.3,182 203.3,186.6 205.3,187.7 209.3,188.2 214.3,188 219.3,186.2 220.3,187.3 221.7,193.8 220.7,199.2 220.3,200.3 219.3,201.5 215.3,199.9 211.3,199.4 206.3,199.7 202.3,201.4 201.3,201.1 200.3,199.2 198.3,186 196.3,182.4 195.3,181.8 193.3,181.4 189.3,181.4 185.3,182.3 184.3,181.5 183.3,179 181.3,166.9 180.3,163.9 179.3,162.6 175.3,161.6 174.3,161.1 173.3,159.8 172,156.2 171.1,150.8 160.3,130.8 151.3,107.9 145.3,88 139.3,64.9 137.9,45.4 133.5,29.2 131.8,4ZM229,210 229.3,209.9 233.2,215.4 229.3,220.8 228.3,220.4 227,215.4 228.3,210.3 229,210ZM246.7,215.4 250.3,210.5 251.3,210 252.3,211.9 252.9,215.4 252.3,218.8 251.3,220.7 250.3,220.2 246.7,215.4ZM260.3,231.3 261.3,230.6 265,236.6 261.3,242.6 260.3,242 259,236.6 260.3,231.3ZM289.7,231.3 290.3,230.6 291.3,231.2 292.6,236.6 291.3,242 290.3,242.6 286.6,236.6 289.7,231.3ZM298.8,257.9 299.3,256.6 300.3,255.9 301.9,257.9 300.3,259.7 299.3,259.1 298.8,257.9ZM340.5,257.9 342.3,256 343.5,257.9 342.3,259.7 340.5,257.9Z"/>
<path fill="#00afff" d="M131.8,4 145.9,4 146.4,15.2 148,29.2 151.7,45.4 154.8,64.9 160.6,86.3 167.2,107.9 172.1,129.3 172.3,129.9 174.3,130.7 175.3,134.7 176.3,136.1 177.3,136.5 178.3,138.3 179.3,141.6 181.3,143.7 182.3,146.7 184.3,149 185,150.8 185.4,156.2 186.3,161.8 187.3,163.6 188.3,163.8 193.3,163.9 197.3,162.9 198.3,163.8 199.4,166.9 201.2,183.1 203.3,187.5 206.3,188.8 212.3,189.1 215.3,188.7 219.3,187 220.3,188.2 221.5,193.8 220.3,199.4 219.3,200.6 215.3,198.9 211.3,198.5 206.3,198.8 202.3,200.5 201.3,200.3 200.3,198.2 199.5,193.8 199.1,188.4 198.3,185 196.3,181.7 194.3,180.8 191.3,180.6 188.3,180.8 185.3,181.7 184.3,180.8 183.3,178.2 181.5,166.9 180.3,163.2 179.3,162 174.3,160.4 173.3,159.1 172.3,156.2 171.2,150.8 160.3,130.5 151.4,107.9 145.3,87.6 139.4,64.9 138,45.4 133.6,29.2 131.8,4ZM227.2,215.4 228.3,211.2 229.3,210.8 232.3,215.4 229.3,219.9 228.3,219.5 227.2,215.4ZM247.7,215.4 250.3,211.5 251.3,211 252.3,213 252.7,215.4 252.3,217.8 251.3,219.7 250.3,219.3 247.7,215.4ZM259.1,236.6 260.3,232.1 261.3,231.5 264.3,236.6 261.3,241.7 260.3,241.1 259.1,236.6ZM287.3,236.6 290.3,231.5 291.3,232.1 292.5,236.6 291.3,241.1 290.3,241.7 287.3,236.6ZM299.3,257.9 300.3,257 301,257.9 300.3,258.7 299.3,257.9ZM341.4,257.9 342.3,257.2 343,257.9 342.3,258.6 341.4,257.9Z"/>
<path fill="#00cfff" d="M132,4 145.6,4 146.2,15.2 147.8,29.2 151.4,45.4 154.6,64.9 160.4,86.3 167,107.9 171.9,129.3 172.3,130.3 174.3,131.3 175.3,135.1 176.3,136.5 177.3,137 179.3,141.9 180.3,142.7 181.3,144.2 182.3,147.1 184.3,149.3 184.9,150.8 185.3,157.7 186.3,163.4 187.3,165 188.3,165.2 193.3,165.4 197.3,164.3 198.3,165.2 199.3,168.2 199.9,172.3 200.2,183.1 202.3,187.8 203.3,189.3 204.3,189.9 206.3,190.7 209.3,191 214.3,190.8 219.3,188.6 220.3,190 221.2,193.8 220.3,197.6 219.3,199 215.3,197.1 211.3,196.6 206.3,196.9 202.3,198.9 201.3,198.6 200.3,196.3 199.8,193.8 199.8,188.4 199.3,185.1 198.5,183.1 196.3,180.3 194.3,179.4 191.3,179.1 188.3,179.4 185.3,180.3 184.3,179.4 183.3,176.4 181.3,164.5 180.3,161.9 179.3,160.8 174.3,159.1 173.3,157.6 171.6,150.8 160.3,130 151.6,107.9 145.3,86.9 139.6,64.9 138.2,45.4 133.8,29.2 132,4ZM227.7,215.4 228.3,213.2 229.3,212.7 230.8,215.4 229.3,218.1 228.3,217.6 227.7,215.4ZM249.2,215.4 250.3,213.4 251.3,212.9 252.3,215.4 251.3,217.9 250.3,217.3 249.2,215.4ZM259.6,236.6 260.3,234 261.3,233.3 262.3,234.7 263.2,236.6 261.3,240 260.3,239.2 259.6,236.6ZM288.4,236.6 290.3,233.3 291.3,234 292,236.6 291.3,239.2 290.3,240 288.4,236.6Z"/>
<path fill="#00efff" d="M132.1,4 145.4,4 145.9,15.2 147.7,29.2 151.2,45.4 154.5,64.9 160.3,86.6 166.8,107.9 171.8,129.3 172.3,130.7 174.3,132 175.3,135.6 176.3,136.9 177.3,137.5 179.3,142.3 180.3,143.1 181.3,144.7 182.3,147.5 184.3,149.7 184.7,150.8 185.5,161.6 186.3,165 187.3,166.4 189.3,166.8 193.3,166.8 197.3,165.6 198.3,166.7 199.7,172.3 199.3,179.7 198.3,180.7 196.3,178.8 194.3,177.9 189.3,177.8 185.3,179 184.3,177.9 183.3,174.7 182.2,166.9 180.7,161.6 179.3,159.6 175.3,158.4 174.3,157.8 173.3,156.1 171.9,150.8 160.3,129.5 152.3,109.4 145.3,86.3 139.8,64.9 138.3,45.4 134,29.2 132.1,4ZM200.2,193.8 200.3,191.2 201.3,188.8 204.3,191.7 208.3,192.8 214.3,192.6 219.3,190.3 220.3,191.7 220.8,193.8 220.3,195.9 219.3,197.4 215.3,195.3 211.3,194.7 206.3,195.1 202.3,197.2 201.3,196.9 200.2,193.8ZM228.2,215.4 229.3,214.6 229.7,215.4 229.3,216.2 228.2,215.4ZM250.3,215.4 251.3,214.8 251.6,215.4 251.3,216 250.3,215.4ZM260.1,236.6 260.3,235.8 261.3,235.1 262.3,236.6 261.3,238.2 260.3,237.4 260.1,236.6ZM289.3,236.6 290.3,235.1 291.3,235.8 291.5,236.6 291.3,237.4 290.3,238.2 289.3,236.6Z"/>
<path fill="#10ffef" d="M132.3,4 145.1,4 145.7,15.2 147.5,29.2 150.9,45.4 154.3,64.9 160.3,87.2 166.6,107.9 171.6,129.3 172.3,131.1 174.3,132.6 175.3,136.1 177.3,137.9 178.3,140.7 181.3,145.2 182.3,147.9 184.3,150.1 185.1,161.6 186.3,166.6 187.3,167.8 189.3,168.3 193.3,168.3 197.3,167 198.3,168.1 199.4,172.3 199.3,174.3 198.3,178.5 197.3,178.4 195.3,176.8 193.3,176.3 189.3,176.3 185.3,177.6 184.3,176.5 183.3,172.9 182.6,166.9 181.3,161.4 180.3,159.4 179.3,158.4 175.3,157.1 174.3,156.4 173.3,154.7 172.3,150.8 161.3,131.3 152.3,109 145.5,86.3 140,64.9 138.4,45.4 134.2,29.2 132.3,4ZM200.7,193.8 201.3,191.5 202.3,191.7 204.9,193.8 202.3,195.6 201.3,195.3 200.7,193.8ZM216.1,193.8 219.3,191.9 220.4,193.8 219.3,195.7 216.1,193.8Z"/>
<path fill="#30ffcf" d="M132.4,4 144.9,4 145.5,15.2 147.4,29.2 154.1,64.9 160.3,87.8 166.4,107.9 171.5,129.3 172.3,131.5 174.3,133.2 175.3,136.5 177.3,138.4 178.3,141.3 179.3,143 180.3,143.8 182.3,148.3 184.4,150.8 184.8,161.6 185.3,165.1 186.3,168.1 187.3,169.2 191.3,169.9 194.3,169.6 197.3,168.3 198.3,169.6 199,172.3 198.3,176.4 197.3,176.9 195.3,175.4 193.3,174.9 189.3,174.9 185.3,176.3 184.3,175 183.6,172.3 182.3,163.4 181.3,159.9 180.3,158.1 179.3,157.2 175.3,155.9 174.3,155.1 172.3,150 161.3,131 152.3,108.5 145.7,86.3 140.2,64.9 138.6,45.4 134.5,29.2 132.4,4ZM201.9,193.8 202.5,193.8 201.9,193.8ZM218.7,193.8 219.3,193.5 219.5,193.8 219.3,194.1 218.7,193.8Z"/>
<path fill="#50ffaf" d="M132.6,4 144.6,4 145.2,15.2 147.2,29.2 153.9,64.9 160.3,88.4 166.2,107.9 171.4,129.3 172.3,131.9 174.3,133.8 175.3,137 177.3,138.8 178.3,142 180.3,144.1 182.3,148.7 184.2,150.8 184.4,161.6 185,166.9 186.3,169.7 188.3,171 191.3,171.3 194.3,171 197.3,169.7 198.3,171 198.7,172.3 198.3,174.2 197.3,175.3 195.3,174 193.3,173.4 189.3,173.4 185.3,174.9 184.3,173.6 183.6,166.9 181.3,158.3 179.3,156 175.3,154.6 174.3,153.8 172.3,149.2 170.3,146.4 161.3,130.6 152.3,108 145.9,86.3 140.4,64.9 138.7,45.4 134.7,29.2 132.6,4Z"/>
<path fill="#70ff8f" d="M132.7,4 144.4,4 145,15.2 147,29.2 153.8,64.9 160.3,89 166,107.9 171.3,129.9 172.3,132.3 173.3,132.9 174.3,134.4 175.3,137.5 177.3,139.3 178.3,142.6 180.3,144.5 181.3,147.5 184,150.8 183.3,162.3 181.3,156.8 180.3,155.5 179.3,154.8 175.3,153.3 174.3,152.5 172.3,148.3 170.3,145.8 164.3,135.6 160.9,129.3 152.4,107.9 146.1,86.3 140.6,64.9 138.8,45.4 134.9,29.2 132.7,4ZM184.4,172.3 185.3,170 186.3,171.3 187.9,172.3 185.3,173.6 184.4,172.3ZM194.7,172.3 197.3,171 198.2,172.3 197.3,173.8 194.7,172.3Z"/>
<path fill="#8fff70" d="M132.8,4 144.1,4 144.8,15.2 146.9,29.2 153.6,64.9 160.3,89.5 165.8,107.9 171.3,130.7 172.3,132.8 173.3,133.4 174.1,134.7 175.3,138 177.3,139.8 178.3,143.2 180.3,144.9 181.3,148.4 183.8,150.8 183.3,158.5 180.3,154.2 175.3,152.1 174.3,151.1 173.3,148.9 170.5,145.4 169.3,142.9 167.3,140.3 166.3,138 161.3,129.9 152.6,107.9 146.3,86.3 140.9,64.9 139,45.4 135.1,29.2 132.8,4Z"/>
<path fill="#afff50" d="M132.9,4 143.9,4 144.5,15.2 146.7,29.2 153.4,64.9 158.3,83.2 165.6,107.9 171.3,131.5 172.3,133.2 173.3,133.8 173.9,134.7 175.3,138.5 177.2,140.1 178.3,143.8 180.3,145.2 181.3,149.2 183.5,150.8 183.3,154.7 182.3,155.4 180.3,152.9 175.3,150.8 173.3,147.6 171,145.4 169.3,142.1 167.5,140.1 166.3,137.3 164.3,134.7 163.3,132.3 161.3,129.5 152.8,107.9 146.5,86.3 141.1,64.9 139.1,45.4 135.3,29.2 132.9,4Z"/>
<path fill="#cfff30" d="M133.1,4 143.6,4 144.3,15.2 146,25.7 149.2,45.4 153.3,65.2 159.3,87.5 165.5,107.9 171.3,132.4 173.6,134.7 174.3,137.6 175.3,139 176.9,140.1 177.3,142.7 178.3,144.4 180.1,145.4 180.3,147.7 181.3,150 183.3,150.8 182.3,153.3 181.3,152.2 178.4,150.8 173.3,146.2 171.8,145.4 170.3,142.4 167.9,140.1 167.3,138.3 164.6,134.7 163.3,131.7 161.4,129.3 153,107.9 146.7,86.3 141.3,64.9 139.2,45.4 135.6,29.2 133.1,4Z"/>
<path fill="#efff10" d="M133.2,4 143.4,4 144.1,15.2 149,45.4 153,64.9 159.3,88.2 165.2,107.9 169.3,125.9 171.3,133.2 173.4,134.7 174.3,138.8 176.5,140.1 177.3,144.7 179.6,145.4 179.3,148.2 172.3,143.4 170.3,141.2 168.4,140.1 167.3,137.2 164.9,134.7 164.3,132.8 161.7,129.3 153.1,107.9 146.9,86.3 141.5,64.9 139.4,45.4 135.8,29.2 133.2,4ZM181.5,150.8 182.5,150.8 182.3,151.3 181.5,150.8Z"/>
<path fill="#ffef00" d="M133.4,4 143.1,4 143.9,15.2 148.7,45.4 152.8,64.9 159.3,89 165,107.9 170.3,132.4 171.3,134 172.8,134.7 172.3,140 169.3,139.2 167.3,136 165.3,134.7 164.3,131.7 162,129.3 153.3,107.9 147.1,86.3 141.7,64.9 139.6,45.4 136,29.2 133.4,4ZM172.5,140.1 173.3,139.7 175.6,140.1 175.3,140.8 172.5,140.1Z"/>
<path fill="#ffcf00" d="M133.6,4 142.8,4 143.6,15.2 148.4,45.4 153.3,67.9 164.7,107.9 167.2,118.6 169.3,129.3 169.3,132.3 168.6,134.7 166.1,134.7 165.3,132.3 164.3,130.7 162.2,129.3 161.3,126.2 160,123.9 153.6,107.9 147.3,86.3 141.9,64.9 139.7,45.4 136.2,29.2 133.6,4Z"/>
<path fill="#ffaf00" d="M133.8,4 142.6,4 143.4,15.2 148.1,45.4 153.3,68.8 164.4,107.9 166.7,118.6 167.3,125.1 165.3,129.6 163.3,129.6 162.9,129.3 162.3,127.3 160.3,124 159.3,120.7 158.1,118.6 153.8,107.9 147.6,86.3 142.1,64.9 139.9,45.4 136.5,29.2 133.8,4Z"/>
<path fill="#ff8f00" d="M134,4 142.3,4 143.1,15.2 145.3,27.9 147.7,45.4 152.3,66.4 158.3,88.5 164.1,107.9 165.1,113.2 165.3,116.8 165.9,118.6 163.3,124.9 161.3,124.5 160.9,123.9 160.3,121.6 158.4,118.6 154.1,107.9 147.8,86.3 142.4,64.9 140.1,45.4 136.8,29.2 134,4Z"/>
<path fill="#ff7000" d="M134.2,4 141.9,4 142.7,15.2 145.2,29.2 147.4,45.4 152.3,68 163.6,107.9 164,113.2 161.3,119.5 159.3,119.1 159,118.6 158.3,116 156.6,113.2 154.3,107.9 148.1,86.3 142.7,64.9 140.3,45.4 137.1,29.2 134.2,4Z"/>
<path fill="#ff5000" d="M134.4,4 141.5,4 142.4,15.2 144.8,29.2 146.8,45.4 151.3,66.7 152.5,70.2 154.3,78 155.5,81 157.3,89.4 158.4,91.7 160.3,101 161.1,102.5 162.1,107.9 159.3,114 157.3,113.6 156.3,110.3 154.8,107.9 148.4,86.3 143.1,64.9 140.6,45.4 137.3,28.4 134.4,4Z"/>
<path fill="#ff3000" d="M134.8,4 140.9,4 141.8,15.2 144.3,28.3 146.1,45.4 147.2,50.3 148.1,64.9 153.8,86.3 157.5,107.9 157.3,108.3 156.3,108.4 155.3,107.9 153.3,99.6 152.1,97.1 151.3,93.4 149,86.3 143.6,64.9 141,45.4 137.3,24.9 134.8,4Z"/>
<path fill="#ff1000" d="M135.2,4 137,4 138.2,15.2 140.4,29.2 140.8,37.3 140.3,37.6 139.2,33.2 139.1,29.2 138.3,26.6 138.2,22.2 137.2,18.7 137.2,15.2 136.3,12.5 136.2,7 135.2,4Z"/>
<path d="M286.4,4.0V318.5" stroke="#5a6ad8" stroke-width="3"/>
<path d="M286.2,4.0V318.5" stroke="#fb5c50" stroke-width="2.1"/>
</g>
<path d="M367.2,277.4L495.3,284" stroke="#222" stroke-width="2.7"/>
<path d="M367.2,277.4L495.3,284" stroke="#bdbdbd" stroke-width="1.0" stroke-dasharray="2.8 1.3"/>
<polyline points="137.2,4.2 139.1,15.2 141.4,29.2 144.3,45.4 147.7,64.9 153.2,86.3 159,107.9 166.6,129.3 177.2,150.8 191.5,172.3 211.3,193.8 239.5,215.4 274.5,236.6 319.1,257.9 367.2,277.4" fill="none" stroke="#000" stroke-width="2.0" stroke-linejoin="round"/>
<polyline points="137.2,4.2 139.1,15.2 141.4,29.2 144.3,45.4 147.7,64.9 153.2,86.3 159,107.9 166.6,129.3 177.2,150.8 191.5,172.3 211.3,193.8 239.5,215.4 274.5,236.6 319.1,257.9 367.2,277.4" fill="none" stroke="#555" stroke-width="0.4" stroke-linejoin="round"/>
<path d="M135,4.2H139.6" stroke="#000" stroke-width="1.3"/>
<path d="M135,2.2V6.2" stroke="#000" stroke-width="1.2"/>
<path d="M139.6,2.2V6.2" stroke="#000" stroke-width="1.2"/>
<path d="M136.7,15.2H141.5" stroke="#000" stroke-width="1.3"/>
<path d="M136.7,13.2V17.2" stroke="#000" stroke-width="1.2"/>
<path d="M141.5,13.2V17.2" stroke="#000" stroke-width="1.2"/>
<path d="M137.7,29.2H145.1" stroke="#000" stroke-width="1.3"/>
<path d="M137.7,27.2V31.2" stroke="#000" stroke-width="1.2"/>
<path d="M145.1,27.2V31.2" stroke="#000" stroke-width="1.2"/>
<path d="M140.3,45.4H148.3" stroke="#000" stroke-width="1.3"/>
<path d="M140.3,43.4V47.4" stroke="#000" stroke-width="1.2"/>
<path d="M148.3,43.4V47.4" stroke="#000" stroke-width="1.2"/>
<path d="M143.2,64.9H152.2" stroke="#000" stroke-width="1.3"/>
<path d="M143.2,62.9V66.9" stroke="#000" stroke-width="1.2"/>
<path d="M152.2,62.9V66.9" stroke="#000" stroke-width="1.2"/>
<path d="M148.4,86.3H158" stroke="#000" stroke-width="1.3"/>
<path d="M148.4,84.3V88.3" stroke="#000" stroke-width="1.2"/>
<path d="M158,84.3V88.3" stroke="#000" stroke-width="1.2"/>
<path d="M153.9,107.9H164.1" stroke="#000" stroke-width="1.3"/>
<path d="M153.9,105.9V109.9" stroke="#000" stroke-width="1.2"/>
<path d="M164.1,105.9V109.9" stroke="#000" stroke-width="1.2"/>
<path d="M160.8,129.3H172.5" stroke="#000" stroke-width="1.3"/>
<path d="M160.8,127.3V131.3" stroke="#000" stroke-width="1.2"/>
<path d="M172.5,127.3V131.3" stroke="#000" stroke-width="1.2"/>
<path d="M170.4,150.8H184.3" stroke="#000" stroke-width="1.3"/>
<path d="M170.4,148.8V152.8" stroke="#000" stroke-width="1.2"/>
<path d="M184.3,148.8V152.8" stroke="#000" stroke-width="1.2"/>
<path d="M183.5,172.3H199.6" stroke="#000" stroke-width="1.3"/>
<path d="M183.5,170.3V174.3" stroke="#000" stroke-width="1.2"/>
<path d="M199.6,170.3V174.3" stroke="#000" stroke-width="1.2"/>
<path d="M201.9,193.8H221.2" stroke="#000" stroke-width="1.3"/>
<path d="M201.9,191.8V195.8" stroke="#000" stroke-width="1.2"/>
<path d="M221.2,191.8V195.8" stroke="#000" stroke-width="1.2"/>
<path d="M227.3,215.4H251.2" stroke="#000" stroke-width="1.3"/>
<path d="M227.3,213.4V217.4" stroke="#000" stroke-width="1.2"/>
<path d="M251.2,213.4V217.4" stroke="#000" stroke-width="1.2"/>
<path d="M261,236.6H289.6" stroke="#000" stroke-width="1.3"/>
<path d="M261,234.6V238.6" stroke="#000" stroke-width="1.2"/>
<path d="M289.6,234.6V238.6" stroke="#000" stroke-width="1.2"/>
<path d="M300.5,257.9H337.9" stroke="#000" stroke-width="1.3"/>
<path d="M300.5,255.9V259.9" stroke="#000" stroke-width="1.2"/>
<path d="M337.9,255.9V259.9" stroke="#000" stroke-width="1.2"/>
<path d="M342.8,277.4H391.6" stroke="#000" stroke-width="2.7"/>
<path d="M343.8,277.4H390.6" stroke="#8c8c8c" stroke-width="0.9"/>
<path d="M342.8,275.4V279.4" stroke="#000" stroke-width="1.2"/>
<path d="M391.6,275.4V279.4" stroke="#000" stroke-width="1.2"/>
<path d="M135.6,2.6l3.2,3.2m0,-3.2l-3.2,3.2" stroke="#000" stroke-width="1.6"/>
<path d="M137.5,13.6l3.2,3.2m0,-3.2l-3.2,3.2" stroke="#000" stroke-width="1.6"/>
<path d="M139.8,27.6l3.2,3.2m0,-3.2l-3.2,3.2" stroke="#000" stroke-width="1.6"/>
<path d="M142.7,43.8l3.2,3.2m0,-3.2l-3.2,3.2" stroke="#000" stroke-width="1.6"/>
<path d="M146.1,63.3l3.2,3.2m0,-3.2l-3.2,3.2" stroke="#000" stroke-width="1.6"/>
<path d="M151.6,84.7l3.2,3.2m0,-3.2l-3.2,3.2" stroke="#000" stroke-width="1.6"/>
<path d="M157.4,106.3l3.2,3.2m0,-3.2l-3.2,3.2" stroke="#000" stroke-width="1.6"/>
<path d="M165,127.7l3.2,3.2m0,-3.2l-3.2,3.2" stroke="#000" stroke-width="1.6"/>
<path d="M175.6,149.2l3.2,3.2m0,-3.2l-3.2,3.2" stroke="#000" stroke-width="1.6"/>
<path d="M189.9,170.7l3.2,3.2m0,-3.2l-3.2,3.2" stroke="#000" stroke-width="1.6"/>
<path d="M209.7,192.2l3.2,3.2m0,-3.2l-3.2,3.2" stroke="#000" stroke-width="1.6"/>
<path d="M237.9,213.8l3.2,3.2m0,-3.2l-3.2,3.2" stroke="#000" stroke-width="1.6"/>
<path d="M272.9,235l3.2,3.2m0,-3.2l-3.2,3.2" stroke="#000" stroke-width="1.6"/>
<path d="M317.5,256.3l3.2,3.2m0,-3.2l-3.2,3.2" stroke="#000" stroke-width="1.6"/>
<path d="M365.6,275.8l3.2,3.2m0,-3.2l-3.2,3.2" stroke="#000" stroke-width="1.6"/>
<path d="M103.6,318.5v-4.5M103.6,4v4.5M168.9,318.5v-4.5M168.9,4v4.5M234.2,318.5v-4.5M234.2,4v4.5M299.4,318.5v-4.5M299.4,4v4.5M364.7,318.5v-4.5M364.7,4v4.5M430,318.5v-4.5M430,4v4.5M38.3,278h4.5M495,278h-4.5M38.3,225.6h4.5M495,225.6h-4.5M38.3,173.2h4.5M495,173.2h-4.5M38.3,120.8h4.5M495,120.8h-4.5M38.3,68.4h4.5M495,68.4h-4.5M38.3,16h4.5M495,16h-4.5" stroke="#000018" stroke-width="1" fill="none" opacity="0.85"/>
<path d="M38.3,4.3H494.7V318.2H38.3" fill="none" stroke="#000018" stroke-width="0.9" opacity="0.7"/>
<text x="37.9" y="334" text-anchor="middle">10</text><text x="31" y="334" text-anchor="end">−</text>
<text x="103.2" y="334" text-anchor="middle">5</text><text x="99.9" y="334" text-anchor="end">−</text>
<text x="168.9" y="334" text-anchor="middle">0</text>
<text x="234.2" y="334" text-anchor="middle">5</text>
<text x="299.4" y="334" text-anchor="middle">10</text>
<text x="364.7" y="334" text-anchor="middle">15</text>
<text x="430" y="334" text-anchor="middle">20</text>
<text x="495.3" y="334" text-anchor="middle">25</text>
<text x="36" y="283.4" text-anchor="end">10</text>
<text x="36" y="231" text-anchor="end">20</text>
<text x="36" y="178.6" text-anchor="end">30</text>
<text x="36" y="126.2" text-anchor="end">40</text>
<text x="36" y="73.8" text-anchor="end">50</text>
<text x="36" y="21.4" text-anchor="end">60</text>
<text x="266.2" y="348.4" text-anchor="middle" font-size="14.8">α [°]</text>
<text transform="translate(14.9,162) rotate(-90)" text-anchor="middle" font-size="14.1">Radius [m]</text>
<rect x="422.1" y="9.1" width="68" height="50.5" fill="#fff" stroke="#1a1a40" stroke-width="0.7"/>
<path d="M427.1,22.1H452.6" stroke="#ff1010" stroke-width="1.9"/>
<path d="M427.1,46.3H452.6" stroke="#000" stroke-width="1.2"/>
<path d="M438.2,44.7l3.2,3.2m0,-3.2l-3.2,3.2" stroke="#000" stroke-width="1.3"/>
<text x="455" y="24.9" font-size="16.5">α</text><text x="463.8" y="31.7" font-size="10.6" fill="#333">stall</text>
<text x="455" y="48.9" font-size="16.5">α</text><text x="463.8" y="55.7" font-size="10.6" fill="#333">mean</text>
<rect x="38.3" y="353.8" width="456.7" height="17.69999999999999" fill="url(#jet)"/>
<path d="M114.4,353.8v4.5M114.4,371.5v-4.5M190.5,353.8v4.5M190.5,371.5v-4.5M266.6,353.8v4.5M266.6,371.5v-4.5M342.8,353.8v4.5M342.8,371.5v-4.5M418.9,353.8v4.5M418.9,371.5v-4.5" stroke="#000" stroke-width="1" opacity="0.75"/>
<path d="M38.3,371.2H495.0" stroke="#000" stroke-width="1" opacity="0.7"/>
<path d="M494.7,353.8V371.5" stroke="#000" stroke-width="1" opacity="0.5"/>
<text x="38.3" y="386.8" text-anchor="middle">0</text>
<text x="114.4" y="386.8" text-anchor="middle">0.1</text>
<text x="190.5" y="386.8" text-anchor="middle">0.2</text>
<text x="266.6" y="386.8" text-anchor="middle">0.3</text>
<text x="342.8" y="386.8" text-anchor="middle">0.4</text>
<text x="418.9" y="386.8" text-anchor="middle">0.5</text>
<text x="240" y="399.8" font-size="14.3" fill="#333">N<tspan dy="6.8" font-size="10.4">freq.</tspan><tspan dy="-6.8">/N</tspan><tspan dy="6.8" font-size="10.4">all</tspan></text>
</g>
<text x="256.5" y="447.5" text-anchor="middle" font-size="25.6">(<tspan font-weight="bold">a</tspan>)</text>
<g transform="translate(517.6,0)">
<rect x="38.3" y="4.0" width="456.7" height="314.5" fill="#00008f"/>
<g clip-path="url(#pc)">
<path fill="#00009f" d="M99.2,4 190.2,4 191.4,15.2 195.4,29.2 201.2,45.4 214.9,86.3 223.8,107.9 234.4,129.3 241.5,140.1 247.8,150.8 256.3,158 259.6,161.6 263.2,166.9 267.3,175.4 269.3,178.4 271.3,180.5 273.3,182 283.3,185.5 288.2,188.4 291.3,191.6 298.3,201.4 302.3,204.9 306.3,206.5 315.3,208.2 320.3,210.6 323.3,213.2 330.3,221 334.3,224.2 338.3,225.6 347.3,226.9 352.3,228.5 356.6,231.3 361.1,236.6 363.3,238.5 368.3,241.5 372.3,242.7 384.3,244.4 387.3,245.4 390.3,247.1 395.3,251.6 400,257.9 398.3,260 394.3,264.2 389.3,267.8 383.3,270.6 376.3,272.5 358.3,272.8 337.3,274.7 316.3,274.3 296.3,274.9 286.3,274.1 272.3,271.2 258.3,269.3 253.3,267.7 249.3,265.4 245.3,261.7 242.5,257.9 241.3,257.3 235.3,255.1 221.3,252.3 215.3,249.7 212.1,247.2 209.3,244.3 204.4,236.6 199.3,234.7 189.3,232.3 184.3,230.1 181.3,228 178.3,224.8 175.5,220.7 172.7,215.4 168.3,212.9 159.3,209.1 155.3,206.4 151.3,201.8 147.3,193.8 143.3,188 134.3,176.9 127.3,166.9 124.3,160.3 121.1,150.8 117.3,141.7 115.1,134.7 112.5,124 110.5,113.2 102.9,64.9 101.6,45.4 102,29.2 101,15.2 99.2,4Z"/>
<path fill="#0000af" d="M104,4 179.8,4 181.1,15.2 184.4,29.2 194.1,64.9 200.5,86.3 208,107.9 216.9,129.3 229.3,152.2 234.3,164.5 237.3,170 240,172.3 247.3,173.2 251.3,175 253.8,177.7 256.3,182.2 260.4,193.8 262.3,195.3 265.3,196.7 276.3,198.9 281.3,201.1 285.3,205.2 288.2,210 290.6,215.4 292.3,216.7 297.3,218.9 310.3,220.8 313.3,222 315.3,223.3 319.3,227.5 324.5,236.6 327.3,237.9 330.3,238.7 343.3,239.6 348.3,240.9 352.3,243.6 361.3,254.1 363.3,255.8 365.3,256.8 368.3,257.3 377.3,257 381.3,257.9 377.3,258.8 368.3,258.4 364.3,259.1 361.3,260.6 353.3,266.2 349.3,268.5 344.3,270.4 339.3,271.5 332.3,271.9 317.3,270.7 304.3,272.1 298.3,272.4 293.3,272.1 288.3,271.1 283.3,269.4 272.3,264.5 262.3,262.3 258.3,261 243.3,252.1 239.3,250.1 226.3,247 221.3,244.9 217.3,241.8 213.2,236.6 207.3,231.9 203.3,230 193.3,226.9 188.3,224.2 184.5,220.7 181,215.4 175.3,209.5 171.3,206.5 163.3,202 160.3,199.6 157.3,196.2 152.3,189 144.2,172.3 138.1,166.9 134.1,161.6 126.3,144 122.3,132.4 117.6,113.2 108.9,64.9 107.2,45.4 107,29.2 105.7,15.2 104,4Z"/>
<path fill="#0000bf" d="M107.1,4 172.6,4 174,15.2 185,64.9 190.8,86.3 197.5,107.9 205.3,129.3 211.1,140.1 216.2,150.8 219.3,154 222.3,158.6 224.3,163.1 227.1,172.3 228.3,174.1 230.3,176.1 232.3,177.5 242.3,180.9 246.3,183.3 249.3,186.8 254.3,196.7 256.3,199.7 258.3,201.8 262.3,204.1 271.3,206.1 276.3,208.3 280.3,212.1 286.3,220.7 290.3,224.2 294.3,225.7 304.3,227 309.3,229 313.3,232.4 319.3,240.4 323.3,243.2 327.3,244.2 339.3,245 343.3,246.3 346.3,248.1 350.3,252.2 353.8,257.9 351.3,260.6 348.3,263.1 344.3,265.6 341.3,266.8 337.3,267.6 331.3,267.8 322.3,266.5 318.3,266.3 314.3,266.9 305.3,269 299.3,269.6 294.3,269.3 289.3,268.1 284.3,265.7 272.3,257.9 269.3,257.1 261.3,256 257.3,254.9 252.3,252.5 244.3,246.5 240.3,244.2 236.3,242.9 228.3,241.3 224.3,239.7 218.3,235 211.3,228.4 208.3,226.1 204.3,224.2 195.3,221.4 191.3,219.2 185.3,213.4 178.3,204.6 175.3,201.5 172.3,199.2 161.3,192.1 159.3,190.4 157.3,187.9 154.5,183.1 150.2,172.3 141.3,162 137.3,155.6 130.2,140.1 124.9,124 119.3,99.4 112.9,64.9 110.8,45.4 110.3,29.2 108.8,15.2 107.1,4Z"/>
<path fill="#0000cf" d="M109.5,4 167.1,4 168.5,15.2 178.3,64.9 183.8,86.3 189.9,107.9 197.3,129.3 202.8,140.1 207.6,150.8 213.3,156.2 217.4,161.6 220.3,167.3 224,177.7 226.3,181.7 229.3,184.2 239.3,187.6 243.3,190.2 246.4,193.8 252.3,205.8 255.3,210.1 257.3,211.7 259.3,212.5 269.3,213.5 272.3,214.6 274.3,215.8 277.3,218.7 284.3,229 287.3,232 289.3,233.1 291.3,233.5 300.3,233.4 305.3,234.6 308.5,236.6 316.3,246.9 319.3,249.5 323.3,250.6 333.3,249.9 336.3,250.1 339.3,250.8 342.3,252.3 344.3,253.8 347.7,257.9 347.3,258.3 342.3,261.9 339.3,263.1 336.3,263.7 331.3,263.7 323.3,262.2 319.3,262 315.3,262.6 306.3,265.7 302.3,266.6 296.3,266.7 291.3,265.6 287.3,263.7 283.3,260.8 280,257.9 278.3,254.6 276.3,253.2 273.3,252.6 263.3,252.4 258.3,251.1 253.3,248.3 244.3,240.4 241.3,238.4 237.3,236.9 228.3,235.5 223.3,233.4 219.3,230.3 211.3,221.9 208.3,219.6 205.3,218.3 197.3,216.1 191.3,213.3 187.3,209.5 179.3,198.1 175.5,193.8 166.3,190.4 163.3,188.5 161.3,186.7 157.3,180.5 153.3,171.1 144.3,158.8 140.3,152.1 133.3,136.9 128.3,121.8 122.3,97.1 116,64.9 113.6,45.4 112.8,29.2 109.5,4Z"/>
<path fill="#0000df" d="M111.5,4 162.8,4 164.2,15.2 169.4,45.4 173.2,64.9 178.4,86.3 184.3,107.9 191.2,129.3 201.1,150.8 204.3,154.8 211.4,161.6 215.3,166.9 218,172.3 221.3,185.7 222.5,188.4 224.3,191.1 227.3,192.9 234.3,193.6 237.3,194.3 239.3,195.3 241.3,196.9 243.3,199.5 245.3,203.1 251.3,217.6 252.3,219.1 253.3,219.7 255.3,220.1 264.3,219.4 268.3,219.9 272.3,222 275.3,225.1 282,236.6 280.3,241.6 277.3,244.7 273.3,246.9 268.3,248.3 264.3,248.5 260.3,247.8 256.3,245.9 251.6,241.9 246.6,236.6 245.3,233 244.3,232 241.3,231.3 231.3,231.7 228.3,231.1 225.3,229.8 220.5,226 213.3,217.4 210.3,214.5 207.3,213.2 197.3,211.8 194.3,210.6 192.3,209.2 188,204.6 180.3,192.5 177.3,190.5 167.3,186.9 164.3,184.7 161.3,181.2 159.3,177.7 154.3,167 145.3,153.6 140.9,145.4 135.3,132.4 130.8,118.6 125.3,97.1 118.6,64.9 116,45.4 114.9,29.2 111.5,4ZM293.6,241.9 296.3,241.1 299.3,240.7 302.3,241.3 304.3,242.3 308.3,246.3 314.3,255 317.5,257.9 305.8,262.8 300.3,264 297.3,264 294.3,263.5 291.3,262.5 288.3,260.8 284.7,257.9 285.3,252.2 286.3,248.5 287.3,246.6 289.3,244.4 293.6,241.9ZM323.6,257.9 330.3,255.8 334.3,255.4 338.3,256.2 341.3,257.9 338.3,259.1 334.3,259.8 330.3,259.4 323.6,257.9Z"/>
<path fill="#0000ef" d="M113.3,4 159.3,4 165.6,45.4 169.1,64.9 179.7,107.9 186.2,129.3 198.3,157 201.3,160.2 209.3,166.4 213.8,172.3 219.3,199 220.3,200 221.3,200.3 230.3,199.4 233.3,199.6 235.3,200.1 237.3,201.2 239.3,202.9 242.3,207.3 245.8,215.4 244.3,219.8 243.3,221.6 241.3,223.9 239.3,225.3 236.3,226.6 232.3,227.3 228.3,226.6 225.3,225.1 221.3,221.5 216.6,215.4 215.9,210 215.3,208.6 214.3,207.7 212.3,207.4 205.3,208.4 201.3,208.6 197.3,207.8 194.3,206.2 191.3,203.5 189.3,200.9 185.1,193.8 183.3,189.5 182.3,188.3 179.3,186.6 172.3,185.1 168.3,183.5 164.3,180.1 161.3,175.7 156.3,164.7 147.4,150.8 142,140.1 137.5,129.3 132.3,113.2 128,97.1 120.9,64.9 118.1,45.4 116.7,29.2 113.3,4ZM259.7,226 263.3,225.2 266.3,225.4 269.3,226.7 272.3,229.3 274.3,232 276.8,236.6 275.3,239 273.3,241.1 271.3,242.6 268.3,244 265.3,244.5 262.3,244.3 259.3,243.4 257.3,242.2 252.3,237.7 251.3,236.6 253.3,231.3 256.3,227.8 259.7,226ZM291.6,252.6 293.3,250.7 295.3,249.3 298.3,248.5 300.3,248.6 302.3,249.4 304.3,251 306.3,253.2 309.3,257.9 305.3,259.9 301.3,261.1 297.3,261.2 294.3,260.7 291.3,259.4 288.9,257.9 291.6,252.6Z"/>
<path fill="#0000ff" d="M114.9,4 156.5,4 162.4,45.4 165.7,64.9 173.3,98 179.3,120.9 183.3,133.6 190.6,150.8 191.3,162.3 192.3,167.5 193.3,169.1 194.3,169.6 199.3,169.2 202.3,169.4 205.3,170.4 207.3,171.6 208.2,172.3 209.3,174.5 211.3,180.8 214,193.8 212.3,198.1 211.3,199.6 209.3,201.7 206.3,203.5 202.3,204.5 199.3,204.3 196.3,203.2 193.3,200.9 190.3,197.2 188.3,193.8 187.3,184.8 186.3,182.5 185.3,181.7 183.3,181.3 177.3,181.8 173.3,181.5 169.3,180.2 166.1,177.7 162.3,172.3 160.5,166.9 158.3,162.1 151.2,150.8 143,134.7 138.7,123.9 134.3,110.3 130.3,95.9 124.2,70.2 120.3,47.3 118.4,29.2 114.9,4ZM222.9,210 225.3,207.4 227.3,206.3 230.3,205.5 233.3,205.7 236.3,207.2 238.3,209.2 241.8,215.4 239.3,219.2 236.3,221.6 233.3,222.6 229.3,222.5 225.3,220.4 220.6,215.4 222.9,210ZM261.5,231.3 264.3,230.9 267.3,231.7 270.3,234 272.3,236.6 269.3,239.1 266.3,240.3 262.3,240.4 259.3,239.3 255.7,236.6 258.3,233.2 261.5,231.3ZM294.7,257.9 296.3,256.7 298.3,256.2 300.3,256.4 302.7,257.9 298.3,258.5 294.7,257.9Z"/>
<path fill="#0010ff" d="M116.4,4 154,4 157.7,29.2 160.3,50 162.6,64.9 164.3,72.8 169.5,97.1 175.3,121.5 180.3,138.3 185.5,150.8 183.9,172.3 181.3,175.3 178.3,177.1 174.3,177.8 171.3,177.3 168.3,175.6 165.2,172.3 163.7,166.9 161.3,160.8 158.8,156.2 155.2,150.8 146.3,134.2 144,129.3 139.3,117 132.3,94 125.2,64.9 121.9,45.4 120,29.2 116.4,4ZM194.5,183.1 197.3,180 200.3,178.5 203.3,178.8 205.3,180.4 207,183.1 208.3,186.2 210.4,193.8 208.3,196.9 206.3,198.7 203.3,200.2 201.3,200.5 199.3,200.4 197.3,199.6 195.3,198.4 192.3,195.2 191.4,193.8 192.3,188.6 194.5,183.1ZM224.9,215.4 226.3,213.7 228.3,212.1 231.3,211.4 234.3,212.3 237.6,215.4 234.3,217.7 231.3,218.4 228.3,217.7 224.9,215.4Z"/>
<path fill="#0020ff" d="M117.8,4 151.8,4 155.5,29.2 157.7,50.3 160.3,67.7 170.3,118.2 174.3,135.8 176.3,142.7 179.7,150.8 178.5,172.3 176.3,173.5 174.3,174 172.3,173.8 169.1,172.3 167.3,165.2 165.3,159.6 163.6,156.2 160,150.8 157.3,145.4 147.5,129.3 139.3,108.4 134.2,91.7 127.3,64.8 123.7,45.4 117.8,4ZM198.5,188.4 200.3,187.6 202.3,188 204.3,189.8 206.4,193.8 204.3,195.5 201.3,196.5 198.3,196.1 196.3,194.9 195,193.8 196.3,191 198.5,188.4Z"/>
<path fill="#0030ff" d="M119.3,4 149.8,4 153.4,29.2 154.6,45.4 157,64.9 161,86.3 162.5,97.1 164.6,107.9 166.3,122.8 167.6,129.3 167.1,134.7 166.3,138.4 165.3,139.8 163.3,139.8 159.3,137.2 155.3,133.3 152.1,129.3 143.3,110.4 139.3,99.2 135.2,86.3 128.3,59.6 124.8,41.4 119.3,4Z"/>
<path fill="#0040ff" d="M120.7,4 147.9,4 151.3,29.2 152.2,45.4 153.6,60 155.3,73.5 157.6,86.3 158.4,97.1 159.8,107.9 158.3,116.3 157.3,118.1 156.3,118.6 154.3,118 151.3,115.3 146.3,107.9 138,86.3 131.8,64.9 128.3,49.8 122.7,18.7 120.7,4Z"/>
<path fill="#0050ff" d="M122.1,4 146.1,4 149.3,29.2 150.5,60 151.8,75.6 153.3,86.3 152.3,93.3 151.3,96 150.3,96.9 149.3,96.9 148.3,96.3 146.3,94.3 142.3,87.7 134.5,64.9 131.3,53.3 127.6,37.3 123.6,15.2 122.1,4Z"/>
<path fill="#0060ff" d="M123.6,4 144.2,4 145.9,15.2 147.3,29.2 146.4,64.9 145.3,70 144.3,71.5 143.3,71.5 142.3,70.9 139.3,66.8 136.3,59.7 133.3,50.7 128.3,31.8 125,15.2 123.6,4Z"/>
<path fill="#0070ff" d="M125.2,4 142.2,4 143.9,15.2 145,29.2 143.3,44 142.3,48.3 141.3,50.7 140.3,51.6 139.3,51.6 138.3,50.9 136.3,47.9 133.3,41.3 131.3,35.4 126.6,15.2 125.2,4Z"/>
<path fill="#0080ff" d="M127.1,4 139.9,4 141.7,15.2 142.2,29.2 140.3,36.2 139.3,37.7 138.3,38.4 137.3,38.3 135.3,36.5 132.3,30.1 128.4,15.2 127.1,4Z"/>
<path fill="#008fff" d="M129.7,4 136.8,4 138.9,15.2 138.2,22.2 137.3,25.5 136.3,26.4 135.3,25.7 134.3,24.1 130.8,15.2 129.7,4Z"/>
<path d="M286.4,4.0V318.5" stroke="#5a6ad8" stroke-width="3"/>
<path d="M286.2,4.0V318.5" stroke="#fb5c50" stroke-width="2.1"/>
</g>
<path d="M365.4,277.4L495.3,284" stroke="#222" stroke-width="2.7"/>
<path d="M365.4,277.4L495.3,284" stroke="#bdbdbd" stroke-width="1.0" stroke-dasharray="2.8 1.3"/>
<polyline points="138.1,4.2 139.6,15.2 142,29.2 144.5,45.4 148.2,64.9 153.5,86.3 159.5,107.9 166.8,129.3 177.2,150.8 191.4,172.3 211.5,193.8 239.3,215.4 274.5,236.6 318.3,257.9 365.4,277.4" fill="none" stroke="#000" stroke-width="2.7" stroke-linejoin="round"/>
<polyline points="138.1,4.2 139.6,15.2 142,29.2 144.5,45.4 148.2,64.9 153.5,86.3 159.5,107.9 166.8,129.3 177.2,150.8 191.4,172.3 211.5,193.8 239.3,215.4 274.5,236.6 318.3,257.9 365.4,277.4" fill="none" stroke="#b4b4a0" stroke-width="0.7" stroke-linejoin="round"/>
<path d="M120.5,4.2H155.6" stroke="#000" stroke-width="1.3"/>
<path d="M120.5,2.2V6.2" stroke="#000" stroke-width="1.2"/>
<path d="M155.6,2.2V6.2" stroke="#000" stroke-width="1.2"/>
<path d="M122.4,15.2H157.2" stroke="#000" stroke-width="2.7"/>
<path d="M123.4,15.2H156.2" stroke="#8c8c8c" stroke-width="0.9"/>
<path d="M122.4,13.2V17.2" stroke="#000" stroke-width="1.2"/>
<path d="M157.2,13.2V17.2" stroke="#000" stroke-width="1.2"/>
<path d="M123.8,29.2H160.1" stroke="#000" stroke-width="2.7"/>
<path d="M124.8,29.2H159.1" stroke="#8c8c8c" stroke-width="0.9"/>
<path d="M123.8,27.2V31.2" stroke="#000" stroke-width="1.2"/>
<path d="M160.1,27.2V31.2" stroke="#000" stroke-width="1.2"/>
<path d="M124.8,45.4H164.4" stroke="#000" stroke-width="2.7"/>
<path d="M125.8,45.4H163.4" stroke="#8c8c8c" stroke-width="0.9"/>
<path d="M124.8,43.4V47.4" stroke="#000" stroke-width="1.2"/>
<path d="M164.4,43.4V47.4" stroke="#000" stroke-width="1.2"/>
<path d="M126.9,64.9H169.3" stroke="#000" stroke-width="2.7"/>
<path d="M127.9,64.9H168.3" stroke="#8c8c8c" stroke-width="0.9"/>
<path d="M126.9,62.9V66.9" stroke="#000" stroke-width="1.2"/>
<path d="M169.3,62.9V66.9" stroke="#000" stroke-width="1.2"/>
<path d="M131.2,86.3H175.8" stroke="#000" stroke-width="2.7"/>
<path d="M132.2,86.3H174.8" stroke="#8c8c8c" stroke-width="0.9"/>
<path d="M131.2,84.3V88.3" stroke="#000" stroke-width="1.2"/>
<path d="M175.8,84.3V88.3" stroke="#000" stroke-width="1.2"/>
<path d="M135.5,107.9H183.4" stroke="#000" stroke-width="2.7"/>
<path d="M136.5,107.9H182.4" stroke="#8c8c8c" stroke-width="0.9"/>
<path d="M135.5,105.9V109.9" stroke="#000" stroke-width="1.2"/>
<path d="M183.4,105.9V109.9" stroke="#000" stroke-width="1.2"/>
<path d="M141,129.3H192.8" stroke="#000" stroke-width="2.7"/>
<path d="M142,129.3H191.8" stroke="#8c8c8c" stroke-width="0.9"/>
<path d="M141,127.3V131.3" stroke="#000" stroke-width="1.2"/>
<path d="M192.8,127.3V131.3" stroke="#000" stroke-width="1.2"/>
<path d="M149.1,150.8H204.8" stroke="#000" stroke-width="2.7"/>
<path d="M150.1,150.8H203.8" stroke="#8c8c8c" stroke-width="0.9"/>
<path d="M149.1,148.8V152.8" stroke="#000" stroke-width="1.2"/>
<path d="M204.8,148.8V152.8" stroke="#000" stroke-width="1.2"/>
<path d="M162.1,172.3H221.8" stroke="#000" stroke-width="2.7"/>
<path d="M163.1,172.3H220.8" stroke="#8c8c8c" stroke-width="0.9"/>
<path d="M162.1,170.3V174.3" stroke="#000" stroke-width="1.2"/>
<path d="M221.8,170.3V174.3" stroke="#000" stroke-width="1.2"/>
<path d="M178.8,193.8H244.1" stroke="#000" stroke-width="2.7"/>
<path d="M179.8,193.8H243.1" stroke="#8c8c8c" stroke-width="0.9"/>
<path d="M178.8,191.8V195.8" stroke="#000" stroke-width="1.2"/>
<path d="M244.1,191.8V195.8" stroke="#000" stroke-width="1.2"/>
<path d="M203.3,215.4H275.3" stroke="#000" stroke-width="2.7"/>
<path d="M204.3,215.4H274.3" stroke="#8c8c8c" stroke-width="0.9"/>
<path d="M203.3,213.4V217.4" stroke="#000" stroke-width="1.2"/>
<path d="M275.3,213.4V217.4" stroke="#000" stroke-width="1.2"/>
<path d="M236.3,236.6H313.9" stroke="#000" stroke-width="2.7"/>
<path d="M237.3,236.6H312.9" stroke="#8c8c8c" stroke-width="0.9"/>
<path d="M236.3,234.6V238.6" stroke="#000" stroke-width="1.2"/>
<path d="M313.9,234.6V238.6" stroke="#000" stroke-width="1.2"/>
<path d="M277.1,257.9H359.1" stroke="#000" stroke-width="2.7"/>
<path d="M278.1,257.9H358.1" stroke="#8c8c8c" stroke-width="0.9"/>
<path d="M277.1,255.9V259.9" stroke="#000" stroke-width="1.2"/>
<path d="M359.1,255.9V259.9" stroke="#000" stroke-width="1.2"/>
<path d="M320.2,277.4H411.1" stroke="#000" stroke-width="2.7"/>
<path d="M321.2,277.4H410.1" stroke="#8c8c8c" stroke-width="0.9"/>
<path d="M320.2,275.4V279.4" stroke="#000" stroke-width="1.2"/>
<path d="M411.1,275.4V279.4" stroke="#000" stroke-width="1.2"/>
<path d="M136.2,2.3l3.8,3.8m0,-3.8l-3.8,3.8" stroke="#000" stroke-width="1.9"/>
<path d="M137.7,13.3l3.8,3.8m0,-3.8l-3.8,3.8" stroke="#000" stroke-width="1.9"/>
<path d="M140.1,27.3l3.8,3.8m0,-3.8l-3.8,3.8" stroke="#000" stroke-width="1.9"/>
<path d="M142.6,43.5l3.8,3.8m0,-3.8l-3.8,3.8" stroke="#000" stroke-width="1.9"/>
<path d="M146.3,63l3.8,3.8m0,-3.8l-3.8,3.8" stroke="#000" stroke-width="1.9"/>
<path d="M151.6,84.4l3.8,3.8m0,-3.8l-3.8,3.8" stroke="#000" stroke-width="1.9"/>
<path d="M157.6,106l3.8,3.8m0,-3.8l-3.8,3.8" stroke="#000" stroke-width="1.9"/>
<path d="M164.9,127.4l3.8,3.8m0,-3.8l-3.8,3.8" stroke="#000" stroke-width="1.9"/>
<path d="M175.3,148.9l3.8,3.8m0,-3.8l-3.8,3.8" stroke="#000" stroke-width="1.9"/>
<path d="M189.5,170.4l3.8,3.8m0,-3.8l-3.8,3.8" stroke="#000" stroke-width="1.9"/>
<path d="M209.6,191.9l3.8,3.8m0,-3.8l-3.8,3.8" stroke="#000" stroke-width="1.9"/>
<path d="M237.4,213.5l3.8,3.8m0,-3.8l-3.8,3.8" stroke="#000" stroke-width="1.9"/>
<path d="M272.6,234.7l3.8,3.8m0,-3.8l-3.8,3.8" stroke="#000" stroke-width="1.9"/>
<path d="M316.4,256l3.8,3.8m0,-3.8l-3.8,3.8" stroke="#000" stroke-width="1.9"/>
<path d="M363.5,275.5l3.8,3.8m0,-3.8l-3.8,3.8" stroke="#000" stroke-width="1.9"/>
<path d="M103.6,318.5v-4.5M103.6,4v4.5M168.9,318.5v-4.5M168.9,4v4.5M234.2,318.5v-4.5M234.2,4v4.5M299.4,318.5v-4.5M299.4,4v4.5M364.7,318.5v-4.5M364.7,4v4.5M430,318.5v-4.5M430,4v4.5M38.3,278h4.5M495,278h-4.5M38.3,225.6h4.5M495,225.6h-4.5M38.3,173.2h4.5M495,173.2h-4.5M38.3,120.8h4.5M495,120.8h-4.5M38.3,68.4h4.5M495,68.4h-4.5M38.3,16h4.5M495,16h-4.5" stroke="#000018" stroke-width="1" fill="none" opacity="0.85"/>
<path d="M38.3,4.3H494.7V318.2H38.3" fill="none" stroke="#000018" stroke-width="0.9" opacity="0.7"/>
<text x="37.9" y="334" text-anchor="middle">10</text><text x="31" y="334" text-anchor="end">−</text>
<text x="103.2" y="334" text-anchor="middle">5</text><text x="99.9" y="334" text-anchor="end">−</text>
<text x="168.9" y="334" text-anchor="middle">0</text>
<text x="234.2" y="334" text-anchor="middle">5</text>
<text x="299.4" y="334" text-anchor="middle">10</text>
<text x="364.7" y="334" text-anchor="middle">15</text>
<text x="430" y="334" text-anchor="middle">20</text>
<text x="495.3" y="334" text-anchor="middle">25</text>
<text x="36" y="283.4" text-anchor="end">10</text>
<text x="36" y="231" text-anchor="end">20</text>
<text x="36" y="178.6" text-anchor="end">30</text>
<text x="36" y="126.2" text-anchor="end">40</text>
<text x="36" y="73.8" text-anchor="end">50</text>
<text x="36" y="21.4" text-anchor="end">60</text>
<text x="266.2" y="348.4" text-anchor="middle" font-size="14.8">α [°]</text>
<text transform="translate(14.9,162) rotate(-90)" text-anchor="middle" font-size="14.1">Radius [m]</text>
<rect x="422.1" y="9.1" width="68" height="50.5" fill="#fff" stroke="#1a1a40" stroke-width="0.7"/>
<path d="M427.1,22.1H452.6" stroke="#ff1010" stroke-width="1.9"/>
<path d="M427.1,46.3H452.6" stroke="#000" stroke-width="1.2"/>
<path d="M438.2,44.7l3.2,3.2m0,-3.2l-3.2,3.2" stroke="#000" stroke-width="1.3"/>
<text x="455" y="24.9" font-size="16.5">α</text><text x="463.8" y="31.7" font-size="10.6" fill="#333">stall</text>
<text x="455" y="48.9" font-size="16.5">α</text><text x="463.8" y="55.7" font-size="10.6" fill="#333">mean</text>
<rect x="38.3" y="353.8" width="456.7" height="17.69999999999999" fill="url(#jet)"/>
<path d="M114.4,353.8v4.5M114.4,371.5v-4.5M190.5,353.8v4.5M190.5,371.5v-4.5M266.6,353.8v4.5M266.6,371.5v-4.5M342.8,353.8v4.5M342.8,371.5v-4.5M418.9,353.8v4.5M418.9,371.5v-4.5" stroke="#000" stroke-width="1" opacity="0.75"/>
<path d="M38.3,371.2H495.0" stroke="#000" stroke-width="1" opacity="0.7"/>
<path d="M494.7,353.8V371.5" stroke="#000" stroke-width="1" opacity="0.5"/>
<text x="38.3" y="386.8" text-anchor="middle">0</text>
<text x="114.4" y="386.8" text-anchor="middle">0.1</text>
<text x="190.5" y="386.8" text-anchor="middle">0.2</text>
<text x="266.6" y="386.8" text-anchor="middle">0.3</text>
<text x="342.8" y="386.8" text-anchor="middle">0.4</text>
<text x="418.9" y="386.8" text-anchor="middle">0.5</text>
<text x="240" y="399.8" font-size="14.3" fill="#333">N<tspan dy="6.8" font-size="10.4">freq.</tspan><tspan dy="-6.8">/N</tspan><tspan dy="6.8" font-size="10.4">all</tspan></text>
</g>
<text x="775.5" y="447.5" text-anchor="middle" font-size="25.6">(<tspan font-weight="bold">b</tspan>)</text>
<g transform="translate(258.7,484.4)">
<rect x="38.3" y="4.0" width="456.7" height="314.5" fill="#00008f"/>
<g clip-path="url(#pc)">
<path fill="#00009f" d="M92.5,4 187.2,4 188.4,15.2 190.3,18.7 191.5,22.2 192.8,29.2 195.4,33.2 197,37.3 198.4,45.4 201.7,50.3 203.3,53.7 204.7,60 205.3,64.9 206.3,67.1 210.3,70.1 212.3,73.3 213.3,76.4 215.3,87.5 216.3,89.2 220.3,91.7 222.3,94.2 223.5,97.1 225.5,107.9 226.3,110.1 227.3,111.3 231.3,113.7 233.3,116.2 235.3,122.2 237.3,133.2 238.1,134.7 239.3,135.3 243.3,134.1 245.3,134 247.3,134.8 249.3,137 251.3,142.1 253.5,156.2 254.3,159.8 255.3,162.1 256.3,162.8 257.3,162.7 262.3,158 264.3,156.9 266.3,156.6 268.3,157.2 270.3,158.9 271.8,161.6 273.3,166.4 275.3,176.4 276.3,179.5 278.3,183.4 280.3,185.6 282.3,186.4 283.3,186.4 285.3,185.2 291.3,179.3 294.3,178.2 297.3,178.7 299.3,180.3 301,183.1 302.8,188.4 305.3,199 306.3,201.1 308.3,203.4 311.3,204.8 316.3,205.3 319.3,204.5 326.3,200.8 329.3,200.7 331.3,201.4 333.3,203 335.3,206.2 336.8,210 338.1,215.4 339.3,216.8 343.3,219.6 354.3,224.2 357.3,226.4 362.3,231.3 364.3,232.8 366.3,233 367.3,232.6 375.3,224.7 378.3,223.4 380.3,223.4 382.3,224 384.6,226 386.3,228.7 388.9,236.6 390.3,238.9 393.3,242.2 396.3,244 399.3,244.9 407.3,245.5 411.3,246.5 415.3,248.5 421.3,252.7 424.3,253.6 427.3,252.8 433.3,248.8 436.3,247.4 439.3,247.2 441.3,247.8 443.3,249.2 445.3,251.9 447.7,257.9 446.3,264.3 444.3,268.6 443.3,269.8 441.3,271.1 439.3,271.5 436.3,271.1 432.3,269.1 426.3,264.3 424.3,263.7 421.3,264.5 414.3,269.3 408.3,271.8 404.7,272.5 388.3,273.4 368.3,273.8 352.3,273.1 333.3,274.2 314.3,272.9 301.3,274.3 294.3,274.5 288.3,274.1 274.3,272.1 258.3,272.9 249.3,272.7 247.3,272.2 241.3,269.3 238.3,268.9 221.3,272.1 217.3,272.5 213.3,271.5 210.3,269 208.3,265.6 205.3,256.5 204.3,255 202.3,253.5 199.3,252.6 195.3,252 185.3,251.8 183.3,251.4 181.3,250.4 178.3,246.9 176.3,242 174.9,236.6 173.3,234.3 171.3,232.8 168.3,231.5 164.3,230.8 157.3,230.7 154.3,229.1 152.3,226.5 151.3,224.3 149.1,215.4 148.3,214.1 147.3,212.9 145.3,211.6 143.3,211 137.3,210.8 134.3,209 131.9,204.6 129.3,193.1 128.3,191.8 127.3,191.2 123.3,190.6 121.3,189.9 119.6,188.4 118.3,186 117.3,182.7 115.7,172.3 114.3,169.6 111.3,165.8 110.3,163.6 109.3,160.2 107.8,150.8 105.3,145.8 104.3,142.5 102.4,129.3 100.4,118.6 99.4,107.9 97.6,97.1 96.5,81 95.1,45.4 95.5,29.2 94.9,15.2 93.3,9.7 92.5,4Z"/>
<path fill="#0000af" d="M93.5,4 185.8,4 187.3,16 189.7,22.2 192.3,32.3 195.3,38.3 197.3,47.5 198.3,50.2 201.3,55.1 202.3,58 204.3,70.2 205.3,72.4 209.3,74.6 211.3,78.3 212.3,82.1 213.6,91.7 214.3,94.3 215.3,95.3 218.3,95.9 219.3,96.5 221.3,99.5 223.3,107.4 224.3,115.5 225.3,117.2 228.3,117.8 230.3,118.8 231.3,120 233,123.9 234.2,129.3 234,140.1 233.3,146.4 232.3,149.3 231.3,150.8 234.3,151.3 236.4,150.8 240.3,142.6 243.3,139.3 245.3,139 247.3,140.5 249.3,144.8 250.7,150.8 250.2,172.3 251.3,173.7 252.3,174.4 254.3,174.9 257.3,173.8 259.2,172.3 261.5,166.9 263.3,164.2 265.3,162.7 267.3,162.9 269.3,165 271.3,170.4 273.3,185.4 274.3,189.8 276.3,194.6 278.3,196.3 280.3,197 282.3,197.1 284.3,196.6 287.5,193.8 290,188.4 292.3,185.3 294.3,184.2 296.3,184.5 298.3,186.5 300.3,191.1 301,193.8 302.2,204.6 303.3,209.9 304.3,212.6 306.3,215.2 310.3,216.2 315.3,216.7 317.3,216.5 319.3,215.4 325.3,208.6 327.3,207.5 329.3,207.6 331.3,209 332.3,210.4 335.3,217.7 337.3,220.8 340.3,223.4 350.3,229.7 353.3,232.3 356.6,236.6 358.3,241.2 360.3,243.4 362.3,244.1 364.3,244.1 368.3,242.6 371.3,240.1 376.3,232.8 378.3,231.4 380.3,231.3 382.3,232.6 383.3,233.9 388.3,244.6 390.3,247.5 393.3,250.6 396.3,252.7 398.3,253.6 408.3,255 410.3,255.9 413,257.9 410.3,260.2 408.3,261.2 405.3,262 398.3,262.9 387.5,267.6 384.3,268.2 373.3,268.8 366.3,268.3 357.3,265.2 354.3,264.9 351.3,265.5 341.3,269.3 337.3,270 333.3,270.1 328.3,269.2 319.3,265.4 316.3,265.2 313.3,266 303.3,270.4 298.3,271.4 294.3,271.4 288.3,270 280.3,265.7 276.3,264.4 273.3,264.5 263.3,266.3 259.3,266.4 256.3,265.9 251.3,263.9 244.3,258.8 241.3,258 238.3,258.7 230.3,263.2 224.3,265.7 220.3,267.2 217.3,267.5 214.3,266.5 212.3,264.5 211.3,262.8 209.4,257.9 208.3,250.9 207.3,248.4 206.3,247.2 203.3,246.1 192.3,245.6 186.3,245.9 184.3,245.4 182.3,244 180.7,241.9 179.3,239 177.3,232.6 176.3,230.6 174.3,228.3 171.3,226.6 167.3,225.2 164.3,224.8 159.3,225.2 156.3,224.1 153.8,220.7 151.3,212.7 149.3,208.6 147.3,206.8 145.3,206 143.3,205.8 139.3,206.4 137.3,206.1 136.3,205.4 134.3,202.6 133.3,200 131.3,190.7 130.3,188 129.3,186.8 128.3,186.5 123.3,187.1 121.3,185.9 120.3,184.4 118.3,178 116.3,167.1 112.3,161 110.7,156.2 109.3,149.5 105.7,140.1 102,118.6 98.5,91.7 96.5,55.1 96.2,45.4 96.5,29.2 95.9,15.2 94.4,9.7 93.5,4ZM437.1,257.9 438.3,257.6 439.7,257.9 438.3,258.2 437.1,257.9Z"/>
<path fill="#0000bf" d="M94.2,4 184.8,4 186.3,16.5 189.5,25.7 190.9,33.2 194.7,41.4 195.7,45.4 196.3,51.4 197.3,54.1 200.3,58 202.3,64.9 201.9,75.6 201.3,78.9 197.2,86.3 200.3,91.6 201.3,92.4 202.3,91.6 203.3,85.2 204.5,81 206.3,78.9 207.3,78.5 208.3,78.8 209.3,79.8 210.3,81.7 211.5,86.3 210.6,97.1 209.3,101.3 207.3,104.5 205.8,107.9 210.3,115.7 211.3,116.9 212.3,117 213.3,113.6 213.6,107.9 214.3,105.3 216.3,101.8 217.3,101.2 218.3,101.3 219.3,102 220.3,103.6 221.7,107.9 221.3,113.2 220.3,118.7 219.3,121.1 216.3,124.9 215.3,127.3 215,129.3 218.3,132.2 223.3,138 224.3,136.7 224.6,129.3 225.3,127.1 227.3,124.1 228.3,123.6 229.3,123.8 230.3,124.7 232.3,129.3 231.3,136 230.3,139.3 229.3,141.1 228.3,142.1 226.3,142.9 225.3,144.5 225,150.8 226.3,154 227.3,155 229.3,155.6 237.3,154.7 238.3,154.2 239.3,152.9 241.3,147.5 243.3,144.5 244.3,144 245.3,144 246.3,144.7 247.3,146.2 248.9,150.8 247.8,161.6 245.5,172.3 246.5,177.7 248.3,181 249.3,181.7 251.3,182 253.3,181.3 255.3,180 260.3,175.6 264.3,169.5 265.3,168.7 266.3,168.5 267.3,169 268.3,170.1 269.3,172.3 270.7,193.8 271.5,199.2 272.3,201.6 273.3,203 275.3,204.1 278.3,204.3 281.3,203.9 284.3,202.7 286.3,201.1 288.3,198.7 292.3,191.9 293.3,190.8 295.3,190.1 297.3,191.7 298.4,193.8 299.9,215.4 301.2,220.7 302.3,222.2 304.3,223.2 310.3,223.6 313.3,224.3 322.3,228.9 324.3,229.3 325.3,227.6 325.5,226 325.9,215.4 327.3,214.4 329.3,214.5 330.4,215.4 331.3,221.6 332.3,224.1 333.3,225.4 341.3,229.7 349.8,236.6 350.4,257.9 345.3,261.8 342.3,263.6 338.3,264.9 334.3,265.2 331.3,264.6 328.3,263.3 320.5,257.9 319.3,256.1 317.3,256 304.3,265.8 300.3,267.4 295.3,267.9 291.3,267 288.3,265.4 278.3,256.8 277.3,256.3 275.3,256.2 273.3,256.6 265.3,259.5 260.3,259.8 257.3,259.1 255.3,258.1 251.3,254 248.3,252.3 243.3,251.3 237.3,251.1 233.3,251.5 230.3,252.6 229.3,253.4 228.3,255 227.5,257.9 220.3,262 218.3,262.6 216.3,262.3 214.3,261 212.3,257.9 213.3,251.1 214.3,248.4 216.3,246.3 218.3,245.6 222.3,245 223.3,244.4 224.5,241.9 225.3,236.6 223.3,234.6 221.3,233.8 219.3,233.5 213.3,233.8 208.3,235 203.3,238.2 200.3,239.3 197.3,239.6 191.3,239.4 187.3,239.9 185.3,239.6 183.3,238.3 182,236.6 181.3,227.3 180.3,224.3 179.3,223.1 176.3,221.6 166.3,218.9 163.3,218.8 159.3,219.4 157.3,218.8 156.3,217.8 154.8,215.4 153.3,206.7 152.3,204.4 150.3,202.1 148.3,201 145.3,200.4 143.3,200.6 140.3,201.7 138.3,201.8 136.3,200.4 135.3,198.8 133.6,193.8 132.7,183.1 132.3,181.7 131.3,180.4 130.3,180.2 129.3,180.5 125.3,183.3 123.3,183.6 121.3,181.9 120.3,179.7 118.6,172.3 118.3,166.8 117.4,161.6 116.3,159.9 113.3,156.9 112.3,154.7 110.3,146.9 107.3,139.9 105.9,134.7 102.4,113.2 99,86.3 97,45.4 97.2,29.2 96.6,15.2 94.2,4ZM138.3,171.6 137.4,172.3 138.3,173 141.3,173.9 143.3,173.3 144.2,172.3 143.3,171.5 141.3,170.7 138.3,171.6ZM160.3,193.7 162.3,198.8 164.3,201 165.3,201.2 166.3,200.8 168.3,198.5 170.2,193.8 168.3,193 165.3,192.5 162.3,192.8 160.3,193.7ZM184.3,45.3 185.3,47.4 186.3,47.2 186.7,45.4 186.3,44.8 185.3,44.5 184.3,45.3ZM190.3,63.4 189.6,64.9 191.3,67.9 192.3,68.6 193.3,67 193.6,64.9 193.3,63.9 192.3,62.8 191.3,62.7 190.3,63.4ZM184.3,214.9 183.3,215.4 184.3,219.6 185.3,221.4 189.3,225.3 191.3,225.9 192.3,225.6 194.3,223.2 195.3,220.6 196.3,215.4 194.3,214.2 191.3,213.8 187.3,214.1 184.3,214.9ZM373.7,247.2 378.3,242.5 379.3,242.2 380.3,242.5 381.3,243.4 387.4,252.6 392.1,257.9 387.3,261.4 382.3,262.7 371.3,263.2 367.3,262.4 364.3,260.9 359.9,257.9 364.3,253.7 373.7,247.2Z"/>
<path fill="#0000cf" d="M94.7,4 171.6,4 173.1,15.2 185.8,64.9 187.3,67.3 189.3,72.3 193.1,86.3 195.3,89.5 197.3,93.5 201.5,107.9 205.2,113.2 206.3,115.6 210.4,129.3 212.3,132.3 217.3,135.9 219.7,140.1 221.4,145.4 222.4,150.8 223.3,162.7 224.3,164.2 225.3,164.2 227.3,163.2 231.3,160 234.3,158.9 237.3,159.4 241.8,161.6 242.4,166.9 242.2,177.7 241.6,183.1 240.3,188.4 239.3,190.7 237,193.8 238.3,198.8 239.3,199.8 241.3,200 243.3,199.2 245.3,197.8 247.3,195.8 250.3,191.5 258.3,182.1 263.3,178.1 264.3,177.6 265.3,177.8 266.3,179.8 267.3,187 267.8,193.8 267.3,199.5 266.5,204.6 265.3,208.8 263.3,212.2 260.4,215.4 261.3,218.6 262.4,220.7 264.3,222.3 266.3,222.7 269.3,222 271.5,220.7 273.3,218.7 275,215.4 276.3,213.9 278.3,212.3 285.3,208 293.3,199.4 294.3,199.4 295.3,201.1 296.3,206.6 297.1,215.4 296.7,220.7 295.6,226 294.3,228.3 293.3,229.3 291.3,230.2 287.3,230.9 285.3,232 283.3,235.2 281.3,241.3 278.3,244.4 275.3,246.2 271.3,247.8 268.3,248.6 265.3,248.9 263.3,248.5 261.3,247.6 256.3,243.7 254.3,242.8 252.3,242.7 243.3,244.4 240.3,244.2 237.3,243.3 234.3,241.2 232.3,238.5 231.5,236.6 230.6,226 230.3,225 229.3,224 228.3,224.2 221.3,227.9 216.3,229.4 210.3,229.6 207.3,228.9 205.3,227.9 203.6,226 202.3,223 200.3,213 199.3,211.1 198.3,210.3 195.3,209.7 184.3,210.1 179.3,209.2 177.3,207.5 176.3,205 175.1,193.8 173.3,191.3 171.3,190 168.3,189 153.3,185.4 152.1,183.1 151.5,172.3 147.3,161.2 146.3,159.8 144.3,158.4 142.3,158.4 140.3,159.1 136,161.6 133.3,163.6 131.3,167.1 130.4,172.3 127.3,177.4 125.3,179.6 124.3,180.1 123.3,180.1 122.3,179.4 121.2,177.7 119.7,172.3 119.8,166.9 120.3,160.6 121.3,156.5 122.3,154.8 125.9,150.8 125.3,144.7 124.3,139.7 123.3,137.3 122.3,136 121.3,135.4 120.3,135.5 119.3,136.6 118.3,140.1 117.5,150.8 116.3,152.6 115.3,153 114.3,152.6 113.1,150.8 112.3,145.4 111.3,142.5 108.3,137.5 107.3,134.9 103.3,112.7 100.3,91 99.1,75.6 97.6,45.4 97.8,29.2 97.1,15.2 94.7,4ZM216.3,172.1 215.8,172.3 217.3,172.9 219.4,172.3 218.3,172 216.3,172.1ZM177.9,4 183.9,4 185.5,18.7 186.3,21.6 189.3,29.2 189.5,37.3 190.3,38.9 192.3,40.6 193.3,42 194.5,45.4 194.2,50.3 193.3,53.9 192.3,54.8 191.3,54.4 190.3,52.8 189.3,47.9 188.8,41.4 188.3,40 185.3,37.3 184,33.2 183.3,28.2 180.3,21.4 179.6,18.7 177.9,4ZM195.9,64.9 196.3,62.7 197.3,60.7 198.3,60.4 199.3,61.1 201,64.9 200.2,70.2 199.3,72.8 198.3,73.8 197.3,73.1 196.5,70.2 195.9,64.9ZM205.6,86.3 206.3,84.8 207.3,83.7 208.3,83.8 209.8,86.3 209.3,89.4 208.4,91.7 207.3,92.3 206.3,90.5 205.6,86.3ZM216.5,107.9 217.3,106.9 218.3,106.6 219.3,107.5 219.3,108.9 218.3,110.7 217.3,110.4 216.5,107.9ZM242.6,150.8 244.3,149 245.3,149 246.8,150.8 245.3,156.7 244.3,158.5 243.3,159 242.8,156.2 242.6,150.8ZM136.3,188.4 137.3,185.7 138.3,184.9 139.3,185 144.3,189.7 145.3,190.2 149.3,190.9 150.4,193.8 144.3,195.1 140.3,197 138.3,197.2 137.3,196.6 135.5,193.8 136.3,188.4ZM306.9,231.3 310.3,231 312.3,231.5 314.3,232.6 316.3,234.4 317.9,236.6 317.3,238.3 315.5,241.9 310.3,250.2 309.3,252.7 308.1,257.9 306.3,259.8 303.3,262.2 299.3,264 295.3,264.3 292.3,263.5 289.3,261.6 285.7,257.9 286.4,252.6 287.3,249.5 288.6,247.2 290.3,245.6 298.3,240 303.3,233.2 306.9,231.3ZM334.7,236.6 336.3,234.7 338.3,234.2 340.3,234.7 343,236.6 342.6,257.9 339.3,259.6 336.3,260.2 332.3,259.7 329,257.9 332.7,247.2 334.7,236.6Z"/>
<path fill="#0000df" d="M95.3,4 169.1,4 170.6,15.2 171.8,18.7 173.9,29.2 176.3,36.6 178,45.4 180,50.3 181.3,54.8 183.3,65.4 184.3,67.9 187.3,73.2 188.1,75.6 191.3,89.7 192.3,91.5 195.3,95.2 196.3,97.4 197.8,102.5 200.3,113.7 203.3,116.5 205.3,119.8 207.3,126.4 209.3,136.1 210.3,137.8 211.3,138.4 215.3,138.8 217.3,140.6 219.3,145.1 220.7,150.8 219.3,161.4 218.3,163.9 216.3,166 212.3,167 210.3,168.6 208.7,172.3 207.3,179 202.3,191.5 200.3,199.2 198.3,202.3 196.3,204.1 194.3,205.3 191.3,206.3 188.3,206.5 185.3,205.8 183.3,204.7 181.3,202.6 180.3,200.9 179.3,198.3 177.3,190 176.3,188.1 174.3,186.4 165.3,183.8 162.3,181.9 160.3,180.1 157.3,175.5 155.3,170.1 149.8,150.8 147.3,149.4 141.3,146.9 139.2,145.4 138.3,143.7 137.5,140.1 136.8,129.3 133.3,120.9 130.4,107.9 127.3,100.6 123.9,86.3 119.3,73.3 117.3,68.7 115.3,65.6 112.3,62.5 109.3,60.7 108.3,61.4 107.6,64.9 107.5,86.3 109.1,97.1 109.8,107.9 111.6,118.6 112.7,129.3 111.3,134.1 110.3,134.7 109.3,134.3 108.3,132.8 107.2,129.3 106.3,121.5 103.6,107.9 100.6,86.3 98.2,45.4 98.3,29.2 97.7,15.2 95.3,4ZM188.3,145.1 186.1,150.8 187.7,156.2 189.3,157.8 190.3,157.9 192.3,157.2 194.3,155.7 196.3,153.3 197.8,150.8 196.3,145 195.3,142.5 194.3,141.2 193.3,140.9 191.3,141.6 188.3,145.1ZM179.4,4 182.7,4 184.1,15.2 183.3,19.8 182.3,19.5 181.3,17.7 180.7,15.2 179.4,4ZM185.1,29.2 185.3,27.7 186.3,26.7 187.3,27.7 188,29.2 187.3,32 186.3,32.2 185.1,29.2ZM191.1,45.4 191.3,44.9 192.3,44.7 192.8,45.4 192.3,46.7 191.3,46.1 191.1,45.4ZM121.5,166.9 122.3,163.8 123.3,162.1 124.3,161.6 125.3,162.2 126.3,164.3 127.5,172.3 126.3,174.6 124.3,176.6 123.3,176.6 122.3,175.8 120.9,172.3 121.5,166.9ZM229.7,166.9 232.3,163.6 234.3,162.7 236.3,163.1 238.3,165.3 239.3,167.6 240.4,172.3 238.4,183.1 236.3,187.6 232.3,192.1 231.4,193.8 226.3,210 225.2,215.4 223.3,219.4 221.3,222.1 218.3,224.4 215.3,225.4 211.3,225.2 209.3,224.3 207.3,222.5 205.3,218.9 204.1,215.4 204.7,210 206,204.6 208.3,200.5 213.7,193.8 215.3,189.4 216.3,187.7 218.3,185.2 223.3,180.8 225.3,178.3 226.3,175.6 226.9,172.3 229.7,166.9ZM256.8,188.4 258.3,186.5 260.3,185 262.3,184.7 263.3,185.3 264.7,188.4 265.7,193.8 264.3,200.8 262.9,204.6 261.3,207.1 259.3,208.7 256.3,210.1 255.3,211.2 253.3,220.2 252.3,223 248.2,231.3 246.1,236.6 243.3,237.6 240.3,237.3 238.8,236.6 240.5,226 241.3,215.4 243.3,212.2 245.3,210.1 247.3,208.7 251.3,206.8 252.3,205.8 253.3,201.4 253.6,193.8 256.8,188.4ZM289.4,210 291.3,208.9 292.3,209.1 293.3,210.4 294.6,215.4 292.7,220.7 291.3,222.2 290.3,222.4 288.3,221.8 287,220.7 285.3,218.5 283.8,215.4 289.4,210ZM264.9,236.6 267.3,235 270.3,234.3 273.3,235.1 274.7,236.6 272.3,237.9 269.3,238.3 267.3,238 264.9,236.6ZM293.2,252.6 295.3,251 297.3,250.2 299.3,250.1 300.3,250.4 301.3,251.2 302.3,252.7 303.6,257.9 301.3,259.5 298.3,260.7 295.3,260.7 292.3,259.6 290,257.9 291.3,255.1 293.2,252.6Z"/>
<path fill="#0000ef" d="M95.8,4 101.4,4 103.1,9.7 103.9,15.2 104.2,29.2 103.8,45.4 105.3,91.7 105.7,97.1 107.5,107.9 107.3,109.5 106.3,111.2 104.9,107.9 104.8,102.5 104.2,97.1 101.6,86.3 98.9,45.4 98.9,29.2 98.1,15.2 95.8,4ZM113.9,4 167.5,4 169.1,15.2 171.1,22.2 172.4,29.2 174.9,37.3 177.3,49.1 180.3,57.4 181.7,64.9 182.3,70.9 183.3,73.2 185.3,74.9 186.3,76.4 188.3,82.8 189,86.3 189.3,97.3 190.3,99.3 192.3,98.4 193.3,98.4 194.3,99.2 195.9,102.5 197.4,107.9 196.8,118.6 196.3,121 195.3,123.2 193.3,124.5 191.4,124 190.3,122.4 189.3,118.6 188.3,106.5 187.3,105.4 184.3,106.6 182.5,107.9 183.6,118.6 185.4,129.3 183.3,132.6 182.3,136 181.7,140.1 180,172.3 179.3,176 178.4,177.7 177.3,178.7 174.3,180.4 171.3,181 168.3,180.8 165.3,179.4 162.3,176.5 159.8,172.3 157.3,165.9 155.3,159.2 153.4,150.8 151.3,148.4 145.3,143.6 143.3,140.8 142.3,138.7 141,134.7 140,129.3 136.1,118.6 133.8,107.9 131.7,102.5 130.1,97.1 128.1,86.3 125.4,75.6 121.8,55.1 118.3,29.8 114.6,9.7 113.9,4ZM199.9,123.9 201.3,122.2 202.3,121.9 203.3,122.3 204.3,123.7 205.3,126.1 206.2,129.3 206.3,140.1 206.7,145.4 207.3,147.1 208.3,147.5 209.3,147.2 213.3,143.8 215.3,143.4 216.3,144 217.3,145.3 218.3,147.6 219.3,150.8 218.3,155.9 217.3,158.6 216.3,159.9 215.3,160.5 213.3,159.8 209.3,155.6 206.3,153.2 205.3,150.2 202.3,146 201.3,143.7 200.3,140.1 198.5,129.3 199.9,123.9ZM195.1,166.9 199.3,163.8 201.3,163.2 202.3,163.7 203.3,166.8 203.7,172.3 200.3,181.3 199.3,186 198.5,193.8 197.3,196.7 195.3,199.8 193.3,201.6 191.3,202.5 188.3,202.8 186.3,202.1 184.3,200.6 182.3,197.7 181.3,195.4 180.8,193.8 181.3,182.3 182.3,179.3 183.3,178 190.3,172.9 195.1,166.9ZM233.2,166.9 234.3,166.4 235.3,166.6 236.3,167.2 237.3,168.6 238.7,172.3 237.5,177.7 236.3,180.8 235.3,182.3 234.3,183 233.3,183.2 232.3,182.6 231.3,180.9 230.4,177.7 229.8,172.3 231.3,169.3 233.2,166.9ZM122.5,172.3 123.3,170.4 124.3,170.4 125.1,172.3 124.3,173.1 123.3,173.1 122.5,172.3ZM256.4,193.8 259.3,190.1 260.3,189.6 261.3,189.7 262.3,190.5 263.7,193.8 262.3,198 261.3,199.7 260.3,200.5 259.3,200.6 258.3,199.7 257.3,197.6 256.4,193.8ZM217.9,199.2 220.3,197.8 221.3,198.3 221.8,215.4 220.3,217.8 218.3,219.9 216.3,221.1 213.3,221.4 210.3,220.1 208.3,217.8 207,215.4 208.7,210 211.3,205.3 214.3,202 217.9,199.2Z"/>
<path fill="#0000ff" d="M96.4,4 99.9,4 102.3,15.2 102.8,29.2 102.3,45.4 102.3,69 101.3,66.8 100.3,54.5 99.7,45.4 99.5,29.2 98.5,12.4 98.1,9.7 96.4,4ZM116.8,4 166.5,4 168.3,16.7 170.3,23.9 172,33.2 174.6,41.4 176.3,52.9 179.3,59.4 180.3,63.7 180.3,69.9 179.6,75.6 178.3,78.7 177.3,79.2 176.3,78.6 175.3,76.8 174.3,72.1 173.3,63.7 172.3,62.2 170.3,60.6 169.3,59.1 168,55.1 167.2,45.4 166.3,44.7 165.3,44.7 164.6,45.4 165.7,64.9 164.3,79.7 163.3,83.2 162.3,84.7 160.3,85.3 157.3,85.1 156.3,85.5 155.6,86.3 157.3,89.7 157.6,91.7 158,107.9 160.2,113.2 161.3,117.2 162.9,129.3 165.3,132.6 170.3,136.3 172.3,138.5 174.3,142.4 176.3,150.4 175.6,172.3 173.3,175.4 171.3,176.6 169.3,176.8 167.3,176.3 165.3,175 163.1,172.3 158.7,161.6 155.3,149.4 153.3,146.4 148.3,142.3 145.3,138.6 143.6,134.7 142.1,129.3 138.3,118.7 135.8,107.9 132.2,97.1 130.1,86.3 127.4,75.6 123.9,55.1 120.7,29.2 116.8,4ZM183.4,81 184.3,80.1 185.3,80.3 186.3,81.8 187.7,86.3 186.3,95.1 185.3,96.7 184.3,96.5 183.3,94.6 182.3,89.6 181.9,86.3 182.3,84 183.4,81ZM191.3,107.9 192.3,105.2 193.3,104.3 194.3,104.7 195.3,106.5 195.8,107.9 195.3,111 194.3,113.8 193.3,114.2 192.3,112.6 191.3,107.9ZM201.4,129.3 202.3,128.1 203.3,128.2 204.1,129.3 203.3,132.1 202.3,131.9 201.4,129.3ZM212.3,150.8 214.3,148.3 215.3,148 216.3,148.5 217.6,150.8 216.3,153.9 215.3,154.5 214.3,154.1 212.3,150.8ZM232.1,172.3 233.3,170.8 234.3,170.2 235.3,170.4 236.8,172.3 235.3,175.6 234.3,176.1 233.3,175.4 232.1,172.3ZM187.6,183.1 190.3,181.4 192.3,181.4 193.3,182 194.3,183.5 195.3,187.7 195.9,193.8 193.3,197.5 190.3,199.1 188.3,199.1 186.3,198.1 184.3,195.8 183.2,193.8 184.3,188.8 185.3,186.3 187.6,183.1ZM210.4,215.4 211.3,213.7 213.3,211.5 215.3,210.9 216.3,211.4 217.3,212.7 218.3,215.4 216.3,216.9 214.3,217.4 212.3,216.9 210.4,215.4Z"/>
<path fill="#0010ff" d="M97.3,4 98.5,4 98.3,5 97.3,4ZM118.2,4 152.6,4 155,15.2 155.3,29.2 154.3,34.6 153.3,37.7 152.3,39.4 151.3,40.2 147.3,41.2 146.3,42.6 145.7,45.4 146.7,55.1 147,64.9 149.2,75.6 150.1,86.3 153.2,97.1 154.8,107.9 158.3,120 161,134.7 162.3,136.9 167.3,141 169.3,143.5 171.3,147.5 172.4,150.8 171.3,169.3 170.8,172.3 170.3,172.5 169.3,172.7 167.5,172.3 162.3,162.8 159.3,155.3 158,150.8 157.3,146.6 156.3,144.3 154.3,142.6 149.3,139.6 146.3,135.8 140.1,118.6 137.4,107.9 133.8,97.1 128.8,75.6 125.3,55.1 120.2,15.2 118.2,4ZM159.7,4 165.6,4 167.6,18.7 170.3,28.6 171.3,37.3 173.3,41.6 174.3,45.4 174,50.3 173.3,53.7 172.3,54.4 171.3,53.4 170.3,50.1 169.3,43.1 168.7,41.4 166.3,36.9 164.8,29.2 162.2,22.2 159.7,4ZM99.7,15.2 100.3,13.2 101,15.2 100.7,22.2 100.3,24 99.7,15.2ZM175.5,64.9 176.3,61.5 177.3,60.9 178.3,62 179.3,64.8 178.3,69.8 177.3,70.7 176.3,68.8 175.5,64.9ZM184.3,86.3 185.3,85.8 185.7,86.3 185.3,87.2 184.3,86.3ZM186.1,193.8 187.3,191.5 189.3,189.9 190.3,189.9 191.3,190.6 192.9,193.8 191.3,195.1 189.3,195.6 187.3,194.9 186.1,193.8Z"/>
<path fill="#0020ff" d="M119.1,4 137.5,4 138.9,9.7 140.2,18.7 142.2,45.4 143.8,55.1 144.7,64.9 146.7,75.6 148.1,86.3 151.3,99.3 154,113.2 157.9,129.3 157,134.7 156.3,136.1 154.3,137.6 152.3,137.6 150.3,136.8 148.3,134.9 146.3,131.4 140.3,113.9 134.3,93.5 130,75.6 126.4,55.1 121.1,15.2 119.1,4ZM161.1,4 164.7,4 166.3,15.2 166.3,22.2 169.4,29.2 169.3,30.8 168.3,33.7 167.3,32.8 166.3,29.2 166.3,25.7 165.3,22.8 164.3,21.4 163.3,18.7 161.1,4ZM171.3,45.4 172.3,44.5 172.8,45.4 172.3,46.7 171.3,45.4ZM160.4,150.8 161.3,147.3 162.3,145.9 163.3,145.5 165.3,145.9 167.3,147.8 169,150.8 167.8,156.2 166.3,158.2 165.3,158.3 163.3,156.5 160.4,150.8Z"/>
<path fill="#0030ff" d="M119.9,4 135.6,4 136.8,9.7 138.7,22.2 140.8,45.4 143.2,64.9 147.3,90.5 151.2,107.9 152.3,115.9 155.9,129.3 154.3,132.6 152.3,133.7 150.3,133.2 149.3,132.4 147.3,129.3 145.9,124 141.3,112 135.1,91.7 131.2,75.6 127.3,55.1 121.9,15.2 119.9,4ZM164.2,15.2 164.3,14.4 164.6,15.2 164.3,15.5 164.2,15.2Z"/>
<path fill="#0040ff" d="M120.6,4 134.5,4 137,18.7 139.6,45.4 145.8,91.7 146.8,97.1 149.5,107.9 149.3,117 149,118.6 148.3,119.5 145.3,115.9 142.3,109.9 140.3,102.5 136.3,91.2 132.3,75.6 127.4,50.3 122.6,15.2 120.6,4ZM150,129.3 150.3,126.1 151.3,126.2 153.1,129.3 151.3,130 150,129.3Z"/>
<path fill="#0050ff" d="M121.2,4 133.6,4 135.7,15.2 141.5,70.2 143.9,86.3 144.3,100.2 144.8,102.5 147.3,107.9 146.3,109.6 145.3,109.6 143.8,107.9 143.4,102.5 137.3,89.7 132.3,71.3 128.2,50.3 121.2,4Z"/>
<path fill="#0060ff" d="M121.8,4 132.8,4 134.9,15.2 136.1,25.7 138.2,50.3 139.9,64.9 140.5,75.6 142.3,86.3 141.3,89.5 140.3,89.9 139.3,89.1 137.8,86.3 136.6,81 133.3,70.7 131.9,64.9 128.3,45.9 121.8,4Z"/>
<path fill="#0070ff" d="M122.4,4 132.2,4 134.2,15.2 135.8,29.2 137.6,55.1 138.8,64.9 138.3,72.2 137.3,74.3 136.3,73.5 135.3,71.7 132.9,64.9 129.3,47.2 122.4,4Z"/>
<path fill="#0080ff" d="M123,4 131.5,4 133.6,15.2 135.1,29.2 136.6,60 137.2,64.9 136.3,66.8 135.3,66.4 134.5,64.9 130.3,47.7 123,4Z"/>
<path fill="#008fff" d="M123.6,4 130.8,4 133,15.2 134.4,29.2 134.9,45.4 134.3,50.9 133.3,51.6 131.3,46.9 130.3,42.6 123.6,4Z"/>
<path fill="#009fff" d="M124.2,4 130.1,4 132.3,15.2 133.5,29.2 133.3,38.2 132.3,42.4 131.3,40.3 129.3,32.8 124.2,4Z"/>
<path fill="#00afff" d="M125,4 129.4,4 131.6,15.2 132.4,29.2 132.3,30.7 131.3,33 130.3,31.4 129.3,27.5 126.7,15.2 125,4Z"/>
<path d="M286.4,4.0V318.5" stroke="#5a6ad8" stroke-width="3"/>
<path d="M286.2,4.0V318.5" stroke="#fb5c50" stroke-width="2.1"/>
</g>
<path d="M360.6,277.4L495.3,284.8" stroke="#222" stroke-width="2.7"/>
<path d="M360.6,277.4L495.3,284.8" stroke="#bdbdbd" stroke-width="1.0" stroke-dasharray="2.8 1.3"/>
<polyline points="134.2,4.2 136.1,15.2 138.3,29.2 140.6,45.4 144,64.9 148.8,86.3 154.9,107.9 161.5,129.3 171.5,150.8 185.5,172.3 205.9,193.8 232.6,215.4 268.6,236.6 311.7,257.9 360.6,277.4" fill="none" stroke="#000" stroke-width="2.7" stroke-linejoin="round"/>
<polyline points="134.2,4.2 136.1,15.2 138.3,29.2 140.6,45.4 144,64.9 148.8,86.3 154.9,107.9 161.5,129.3 171.5,150.8 185.5,172.3 205.9,193.8 232.6,215.4 268.6,236.6 311.7,257.9 360.6,277.4" fill="none" stroke="#b4b4a0" stroke-width="0.7" stroke-linejoin="round"/>
<path d="M111.7,4.2H157.2" stroke="#000" stroke-width="1.3"/>
<path d="M111.7,2.2V6.2" stroke="#000" stroke-width="1.2"/>
<path d="M157.2,2.2V6.2" stroke="#000" stroke-width="1.2"/>
<path d="M113.7,15.2H158.6" stroke="#000" stroke-width="2.7"/>
<path d="M114.7,15.2H157.6" stroke="#8c8c8c" stroke-width="0.9"/>
<path d="M113.7,13.2V17.2" stroke="#000" stroke-width="1.2"/>
<path d="M158.6,13.2V17.2" stroke="#000" stroke-width="1.2"/>
<path d="M114.9,29.2H161.7" stroke="#000" stroke-width="2.7"/>
<path d="M115.9,29.2H160.7" stroke="#8c8c8c" stroke-width="0.9"/>
<path d="M114.9,27.2V31.2" stroke="#000" stroke-width="1.2"/>
<path d="M161.7,27.2V31.2" stroke="#000" stroke-width="1.2"/>
<path d="M115.8,45.4H165.6" stroke="#000" stroke-width="2.7"/>
<path d="M116.8,45.4H164.6" stroke="#8c8c8c" stroke-width="0.9"/>
<path d="M115.8,43.4V47.4" stroke="#000" stroke-width="1.2"/>
<path d="M165.6,43.4V47.4" stroke="#000" stroke-width="1.2"/>
<path d="M117.6,64.9H170.5" stroke="#000" stroke-width="2.7"/>
<path d="M118.6,64.9H169.5" stroke="#8c8c8c" stroke-width="0.9"/>
<path d="M117.6,62.9V66.9" stroke="#000" stroke-width="1.2"/>
<path d="M170.5,62.9V66.9" stroke="#000" stroke-width="1.2"/>
<path d="M120.5,86.3H177.7" stroke="#000" stroke-width="2.7"/>
<path d="M121.5,86.3H176.7" stroke="#8c8c8c" stroke-width="0.9"/>
<path d="M120.5,84.3V88.3" stroke="#000" stroke-width="1.2"/>
<path d="M177.7,84.3V88.3" stroke="#000" stroke-width="1.2"/>
<path d="M124.4,107.9H185.6" stroke="#000" stroke-width="2.7"/>
<path d="M125.4,107.9H184.6" stroke="#8c8c8c" stroke-width="0.9"/>
<path d="M124.4,105.9V109.9" stroke="#000" stroke-width="1.2"/>
<path d="M185.6,105.9V109.9" stroke="#000" stroke-width="1.2"/>
<path d="M129.5,129.3H194.7" stroke="#000" stroke-width="2.7"/>
<path d="M130.5,129.3H193.7" stroke="#8c8c8c" stroke-width="0.9"/>
<path d="M129.5,127.3V131.3" stroke="#000" stroke-width="1.2"/>
<path d="M194.7,127.3V131.3" stroke="#000" stroke-width="1.2"/>
<path d="M136.8,150.8H207.4" stroke="#000" stroke-width="2.7"/>
<path d="M137.8,150.8H206.4" stroke="#8c8c8c" stroke-width="0.9"/>
<path d="M136.8,148.8V152.8" stroke="#000" stroke-width="1.2"/>
<path d="M207.4,148.8V152.8" stroke="#000" stroke-width="1.2"/>
<path d="M147.3,172.3H224.5" stroke="#000" stroke-width="2.7"/>
<path d="M148.3,172.3H223.5" stroke="#8c8c8c" stroke-width="0.9"/>
<path d="M147.3,170.3V174.3" stroke="#000" stroke-width="1.2"/>
<path d="M224.5,170.3V174.3" stroke="#000" stroke-width="1.2"/>
<path d="M162.9,193.8H248.6" stroke="#000" stroke-width="2.7"/>
<path d="M163.9,193.8H247.6" stroke="#8c8c8c" stroke-width="0.9"/>
<path d="M162.9,191.8V195.8" stroke="#000" stroke-width="1.2"/>
<path d="M248.6,191.8V195.8" stroke="#000" stroke-width="1.2"/>
<path d="M186.2,215.4H280.1" stroke="#000" stroke-width="2.7"/>
<path d="M187.2,215.4H279.1" stroke="#8c8c8c" stroke-width="0.9"/>
<path d="M186.2,213.4V217.4" stroke="#000" stroke-width="1.2"/>
<path d="M280.1,213.4V217.4" stroke="#000" stroke-width="1.2"/>
<path d="M215.9,236.6H321.7" stroke="#000" stroke-width="2.7"/>
<path d="M216.9,236.6H320.7" stroke="#8c8c8c" stroke-width="0.9"/>
<path d="M215.9,234.6V238.6" stroke="#000" stroke-width="1.2"/>
<path d="M321.7,234.6V238.6" stroke="#000" stroke-width="1.2"/>
<path d="M252.3,257.9H372.5" stroke="#000" stroke-width="2.7"/>
<path d="M253.3,257.9H371.5" stroke="#8c8c8c" stroke-width="0.9"/>
<path d="M252.3,255.9V259.9" stroke="#000" stroke-width="1.2"/>
<path d="M372.5,255.9V259.9" stroke="#000" stroke-width="1.2"/>
<path d="M291.3,277.4H430" stroke="#000" stroke-width="2.7"/>
<path d="M292.3,277.4H429" stroke="#8c8c8c" stroke-width="0.9"/>
<path d="M291.3,275.4V279.4" stroke="#000" stroke-width="1.2"/>
<path d="M430,275.4V279.4" stroke="#000" stroke-width="1.2"/>
<path d="M132.3,2.3l3.8,3.8m0,-3.8l-3.8,3.8" stroke="#000" stroke-width="1.9"/>
<path d="M134.2,13.3l3.8,3.8m0,-3.8l-3.8,3.8" stroke="#000" stroke-width="1.9"/>
<path d="M136.4,27.3l3.8,3.8m0,-3.8l-3.8,3.8" stroke="#000" stroke-width="1.9"/>
<path d="M138.7,43.5l3.8,3.8m0,-3.8l-3.8,3.8" stroke="#000" stroke-width="1.9"/>
<path d="M142.1,63l3.8,3.8m0,-3.8l-3.8,3.8" stroke="#000" stroke-width="1.9"/>
<path d="M146.9,84.4l3.8,3.8m0,-3.8l-3.8,3.8" stroke="#000" stroke-width="1.9"/>
<path d="M153,106l3.8,3.8m0,-3.8l-3.8,3.8" stroke="#000" stroke-width="1.9"/>
<path d="M159.6,127.4l3.8,3.8m0,-3.8l-3.8,3.8" stroke="#000" stroke-width="1.9"/>
<path d="M169.6,148.9l3.8,3.8m0,-3.8l-3.8,3.8" stroke="#000" stroke-width="1.9"/>
<path d="M183.6,170.4l3.8,3.8m0,-3.8l-3.8,3.8" stroke="#000" stroke-width="1.9"/>
<path d="M204,191.9l3.8,3.8m0,-3.8l-3.8,3.8" stroke="#000" stroke-width="1.9"/>
<path d="M230.7,213.5l3.8,3.8m0,-3.8l-3.8,3.8" stroke="#000" stroke-width="1.9"/>
<path d="M266.7,234.7l3.8,3.8m0,-3.8l-3.8,3.8" stroke="#000" stroke-width="1.9"/>
<path d="M309.8,256l3.8,3.8m0,-3.8l-3.8,3.8" stroke="#000" stroke-width="1.9"/>
<path d="M358.7,275.5l3.8,3.8m0,-3.8l-3.8,3.8" stroke="#000" stroke-width="1.9"/>
<path d="M103.6,318.5v-4.5M103.6,4v4.5M168.9,318.5v-4.5M168.9,4v4.5M234.2,318.5v-4.5M234.2,4v4.5M299.4,318.5v-4.5M299.4,4v4.5M364.7,318.5v-4.5M364.7,4v4.5M430,318.5v-4.5M430,4v4.5M38.3,278h4.5M495,278h-4.5M38.3,225.6h4.5M495,225.6h-4.5M38.3,173.2h4.5M495,173.2h-4.5M38.3,120.8h4.5M495,120.8h-4.5M38.3,68.4h4.5M495,68.4h-4.5M38.3,16h4.5M495,16h-4.5" stroke="#000018" stroke-width="1" fill="none" opacity="0.85"/>
<path d="M38.3,4.3H494.7V318.2H38.3" fill="none" stroke="#000018" stroke-width="0.9" opacity="0.7"/>
<text x="37.9" y="334" text-anchor="middle">10</text><text x="31" y="334" text-anchor="end">−</text>
<text x="103.2" y="334" text-anchor="middle">5</text><text x="99.9" y="334" text-anchor="end">−</text>
<text x="168.9" y="334" text-anchor="middle">0</text>
<text x="234.2" y="334" text-anchor="middle">5</text>
<text x="299.4" y="334" text-anchor="middle">10</text>
<text x="364.7" y="334" text-anchor="middle">15</text>
<text x="430" y="334" text-anchor="middle">20</text>
<text x="495.3" y="334" text-anchor="middle">25</text>
<text x="36" y="283.4" text-anchor="end">10</text>
<text x="36" y="231" text-anchor="end">20</text>
<text x="36" y="178.6" text-anchor="end">30</text>
<text x="36" y="126.2" text-anchor="end">40</text>
<text x="36" y="73.8" text-anchor="end">50</text>
<text x="36" y="21.4" text-anchor="end">60</text>
<text x="266.2" y="348.4" text-anchor="middle" font-size="14.8">α [°]</text>
<text transform="translate(14.9,162) rotate(-90)" text-anchor="middle" font-size="14.1">Radius [m]</text>
<rect x="422.1" y="9.1" width="68" height="50.5" fill="#fff" stroke="#1a1a40" stroke-width="0.7"/>
<path d="M427.1,22.1H452.6" stroke="#ff1010" stroke-width="1.9"/>
<path d="M427.1,46.3H452.6" stroke="#000" stroke-width="1.2"/>
<path d="M438.2,44.7l3.2,3.2m0,-3.2l-3.2,3.2" stroke="#000" stroke-width="1.3"/>
<text x="455" y="24.9" font-size="16.5">α</text><text x="463.8" y="31.7" font-size="10.6" fill="#333">stall</text>
<text x="455" y="48.9" font-size="16.5">α</text><text x="463.8" y="55.7" font-size="10.6" fill="#333">mean</text>
<rect x="38.3" y="353.8" width="456.7" height="17.69999999999999" fill="url(#jet)"/>
<path d="M114.4,353.8v4.5M114.4,371.5v-4.5M190.5,353.8v4.5M190.5,371.5v-4.5M266.6,353.8v4.5M266.6,371.5v-4.5M342.8,353.8v4.5M342.8,371.5v-4.5M418.9,353.8v4.5M418.9,371.5v-4.5" stroke="#000" stroke-width="1" opacity="0.75"/>
<path d="M38.3,371.2H495.0" stroke="#000" stroke-width="1" opacity="0.7"/>
<path d="M494.7,353.8V371.5" stroke="#000" stroke-width="1" opacity="0.5"/>
<text x="38.3" y="386.8" text-anchor="middle">0</text>
<text x="114.4" y="386.8" text-anchor="middle">0.1</text>
<text x="190.5" y="386.8" text-anchor="middle">0.2</text>
<text x="266.6" y="386.8" text-anchor="middle">0.3</text>
<text x="342.8" y="386.8" text-anchor="middle">0.4</text>
<text x="418.9" y="386.8" text-anchor="middle">0.5</text>
<text x="240" y="399.8" font-size="14.3" fill="#333">N<tspan dy="6.8" font-size="10.4">freq.</tspan><tspan dy="-6.8">/N</tspan><tspan dy="6.8" font-size="10.4">all</tspan></text>
</g>
<text x="517" y="931.5" text-anchor="middle" font-size="25.6">(<tspan font-weight="bold">c</tspan>)</text>
</svg></body></html>
